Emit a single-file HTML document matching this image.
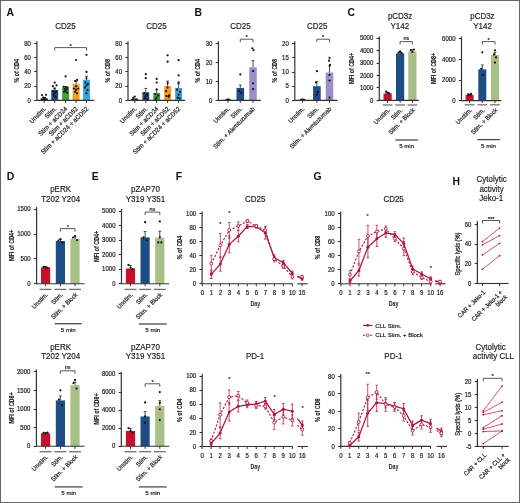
<!DOCTYPE html>
<html><head><meta charset="utf-8"><style>
html,body{margin:0;padding:0;background:#fff;}
body{width:520px;height:503px;overflow:hidden;}
svg{display:block;filter:blur(0.3px);}
text{font-family:"Liberation Sans", sans-serif;}
</style></head><body>
<svg width="520" height="503" viewBox="0 0 520 503" font-family='"Liberation Sans", sans-serif'>
<rect x="0" y="0" width="520" height="503" fill="#fff"/>
<text x="6.6" y="15.8" font-size="10.4" text-anchor="start" font-weight="bold" fill="#111">A</text>
<line x1="36.9" y1="41.2" x2="36.9" y2="100.9" stroke="#333" stroke-width="1.2"/>
<line x1="34.2" y1="100.5" x2="36.9" y2="100.5" stroke="#333" stroke-width="1.1"/>
<text x="0" y="0" font-size="6.4" text-anchor="end" font-weight="normal" fill="#222" transform="translate(30.9 102.55) scale(0.94 1)" stroke="#222" stroke-width="0.2">0</text>
<line x1="34.2" y1="86.5" x2="36.9" y2="86.5" stroke="#333" stroke-width="1.1"/>
<text x="0" y="0" font-size="6.4" text-anchor="end" font-weight="normal" fill="#222" transform="translate(30.9 88.3) scale(0.94 1)" stroke="#222" stroke-width="0.2">20</text>
<line x1="34.2" y1="71.5" x2="36.9" y2="71.5" stroke="#333" stroke-width="1.1"/>
<text x="0" y="0" font-size="6.4" text-anchor="end" font-weight="normal" fill="#222" transform="translate(30.9 74.05) scale(0.94 1)" stroke="#222" stroke-width="0.2">40</text>
<line x1="34.2" y1="57.5" x2="36.9" y2="57.5" stroke="#333" stroke-width="1.1"/>
<text x="0" y="0" font-size="6.4" text-anchor="end" font-weight="normal" fill="#222" transform="translate(30.9 59.8) scale(0.94 1)" stroke="#222" stroke-width="0.2">60</text>
<line x1="34.2" y1="43.5" x2="36.9" y2="43.5" stroke="#333" stroke-width="1.1"/>
<text x="0" y="0" font-size="6.4" text-anchor="end" font-weight="normal" fill="#222" transform="translate(30.9 45.55) scale(0.94 1)" stroke="#222" stroke-width="0.2">80</text>
<text x="0" y="0" font-size="8" text-anchor="middle" font-weight="bold" fill="#222" transform="translate(18.7 70.8) rotate(-90) scale(0.67 1)" stroke="#222" stroke-width="0.15">% of CD4</text>
<text x="0" y="0" font-size="8.7" text-anchor="middle" font-weight="normal" fill="#222" transform="translate(65.5 28.6) scale(0.92 1)" stroke="#222" stroke-width="0.18">CD25</text>
<rect x="40.75" y="98.62" width="6.9" height="1.78" fill="#2e2e2e"/>
<rect x="51.25" y="89.93" width="6.9" height="10.47" fill="#1e4d86"/>
<rect x="62.15" y="87.93" width="6.9" height="12.47" fill="#3c9f3c"/>
<rect x="72.65" y="84.01" width="6.9" height="16.39" fill="#f39c1e"/>
<rect x="83.05" y="79.74" width="6.9" height="20.66" fill="#3aa3dd"/>
<line x1="44.2" y1="98.62" x2="44.2" y2="97.55" stroke="#222" stroke-width="0.8"/>
<line x1="42.8" y1="97.55" x2="45.6" y2="97.55" stroke="#222" stroke-width="0.8"/>
<line x1="54.7" y1="89.93" x2="54.7" y2="88.15" stroke="#222" stroke-width="0.8"/>
<line x1="53.3" y1="88.15" x2="56.1" y2="88.15" stroke="#222" stroke-width="0.8"/>
<line x1="65.6" y1="87.93" x2="65.6" y2="86.51" stroke="#222" stroke-width="0.8"/>
<line x1="64.2" y1="86.51" x2="67" y2="86.51" stroke="#222" stroke-width="0.8"/>
<line x1="76.1" y1="84.01" x2="76.1" y2="81.16" stroke="#222" stroke-width="0.8"/>
<line x1="74.7" y1="81.16" x2="77.5" y2="81.16" stroke="#222" stroke-width="0.8"/>
<line x1="86.5" y1="79.74" x2="86.5" y2="76.18" stroke="#222" stroke-width="0.8"/>
<line x1="85.1" y1="76.18" x2="87.9" y2="76.18" stroke="#222" stroke-width="0.8"/>
<circle cx="42" cy="95.06" r="1.1" fill="#111" stroke="none" stroke-width="0"/>
<circle cx="46" cy="94.84" r="1.1" fill="#111" stroke="none" stroke-width="0"/>
<circle cx="43.2" cy="97.55" r="1.1" fill="#111" stroke="none" stroke-width="0"/>
<circle cx="45.2" cy="97.91" r="1.1" fill="#111" stroke="none" stroke-width="0"/>
<circle cx="44.2" cy="98.98" r="1.1" fill="#111" stroke="none" stroke-width="0"/>
<circle cx="41.7" cy="99.69" r="1.1" fill="#111" stroke="none" stroke-width="0"/>
<circle cx="46.7" cy="99.69" r="1.1" fill="#111" stroke="none" stroke-width="0"/>
<circle cx="43.2" cy="100.04" r="1.1" fill="#111" stroke="none" stroke-width="0"/>
<circle cx="45.2" cy="100.04" r="1.1" fill="#111" stroke="none" stroke-width="0"/>
<circle cx="54.7" cy="82.59" r="1.1" fill="#111" stroke="none" stroke-width="0"/>
<circle cx="52.9" cy="86.15" r="1.1" fill="#111" stroke="none" stroke-width="0"/>
<circle cx="56.5" cy="85.44" r="1.1" fill="#111" stroke="none" stroke-width="0"/>
<circle cx="54.7" cy="88.5" r="1.1" fill="#111" stroke="none" stroke-width="0"/>
<circle cx="53.2" cy="91.14" r="1.1" fill="#111" stroke="none" stroke-width="0"/>
<circle cx="56.2" cy="91.85" r="1.1" fill="#111" stroke="none" stroke-width="0"/>
<circle cx="54.7" cy="93.28" r="1.1" fill="#111" stroke="none" stroke-width="0"/>
<circle cx="53.7" cy="95.41" r="1.1" fill="#111" stroke="none" stroke-width="0"/>
<circle cx="55.7" cy="96.84" r="1.1" fill="#111" stroke="none" stroke-width="0"/>
<circle cx="65.6" cy="76.39" r="1.1" fill="#111" stroke="none" stroke-width="0"/>
<circle cx="63.6" cy="86.86" r="1.1" fill="#111" stroke="none" stroke-width="0"/>
<circle cx="65.6" cy="87.22" r="1.1" fill="#111" stroke="none" stroke-width="0"/>
<circle cx="67.6" cy="87.58" r="1.1" fill="#111" stroke="none" stroke-width="0"/>
<circle cx="64.6" cy="89" r="1.1" fill="#111" stroke="none" stroke-width="0"/>
<circle cx="66.6" cy="89.36" r="1.1" fill="#111" stroke="none" stroke-width="0"/>
<circle cx="65.6" cy="90.43" r="1.1" fill="#111" stroke="none" stroke-width="0"/>
<circle cx="64.1" cy="91.85" r="1.1" fill="#111" stroke="none" stroke-width="0"/>
<circle cx="67.1" cy="92.56" r="1.1" fill="#111" stroke="none" stroke-width="0"/>
<circle cx="76.1" cy="60" r="1.1" fill="#111" stroke="none" stroke-width="0"/>
<circle cx="75.1" cy="81.02" r="1.1" fill="#111" stroke="none" stroke-width="0"/>
<circle cx="77.1" cy="79.88" r="1.1" fill="#111" stroke="none" stroke-width="0"/>
<circle cx="73.9" cy="88.5" r="1.1" fill="#111" stroke="none" stroke-width="0"/>
<circle cx="78.3" cy="88.5" r="1.1" fill="#111" stroke="none" stroke-width="0"/>
<circle cx="76.1" cy="89.71" r="1.1" fill="#111" stroke="none" stroke-width="0"/>
<circle cx="76.1" cy="86.15" r="1.1" fill="#111" stroke="none" stroke-width="0"/>
<circle cx="75.1" cy="91.85" r="1.1" fill="#111" stroke="none" stroke-width="0"/>
<circle cx="77.1" cy="93.28" r="1.1" fill="#111" stroke="none" stroke-width="0"/>
<circle cx="86.5" cy="54.8" r="1.1" fill="#111" stroke="none" stroke-width="0"/>
<circle cx="86.5" cy="71.9" r="1.1" fill="#111" stroke="none" stroke-width="0"/>
<circle cx="86.5" cy="78.31" r="1.1" fill="#111" stroke="none" stroke-width="0"/>
<circle cx="85.5" cy="82.59" r="1.1" fill="#111" stroke="none" stroke-width="0"/>
<circle cx="88" cy="84.01" r="1.1" fill="#111" stroke="none" stroke-width="0"/>
<circle cx="86.5" cy="85.44" r="1.1" fill="#111" stroke="none" stroke-width="0"/>
<circle cx="85" cy="87.58" r="1.1" fill="#111" stroke="none" stroke-width="0"/>
<circle cx="87.5" cy="90.21" r="1.1" fill="#111" stroke="none" stroke-width="0"/>
<circle cx="86.5" cy="93.28" r="1.1" fill="#111" stroke="none" stroke-width="0"/>
<line x1="36.9" y1="100.4" x2="94.3" y2="100.4" stroke="#333" stroke-width="1.1"/>
<line x1="44.2" y1="100.4" x2="44.2" y2="102.9" stroke="#333" stroke-width="1"/>
<line x1="54.7" y1="100.4" x2="54.7" y2="102.9" stroke="#333" stroke-width="1"/>
<line x1="65.6" y1="100.4" x2="65.6" y2="102.9" stroke="#333" stroke-width="1"/>
<line x1="76.1" y1="100.4" x2="76.1" y2="102.9" stroke="#333" stroke-width="1"/>
<line x1="86.5" y1="100.4" x2="86.5" y2="102.9" stroke="#333" stroke-width="1"/>
<path d="M54.7 50.6 V47.6 H86.5 V50.6" stroke="#444" stroke-width="0.9" fill="none"/>
<text x="70.6" y="47.7" font-size="5.8" text-anchor="middle" font-weight="normal" fill="#222" stroke="#222" stroke-width="0.2">*</text>
<text x="0" y="0" font-size="6.5" text-anchor="end" font-weight="normal" fill="#222" transform="translate(46.5 109.3) rotate(-45) scale(0.94 1)" stroke="#222" stroke-width="0.2">Unstim.</text>
<text x="0" y="0" font-size="6.5" text-anchor="end" font-weight="normal" fill="#222" transform="translate(57 109.3) rotate(-45) scale(0.94 1)" stroke="#222" stroke-width="0.2">Stim.</text>
<text x="0" y="0" font-size="6.5" text-anchor="end" font-weight="normal" fill="#222" transform="translate(67.9 109.3) rotate(-45) scale(0.94 1)" stroke="#222" stroke-width="0.2">Stim + aCD24</text>
<text x="0" y="0" font-size="6.5" text-anchor="end" font-weight="normal" fill="#222" transform="translate(78.4 109.3) rotate(-45) scale(0.94 1)" stroke="#222" stroke-width="0.2">Stim + aCD52</text>
<text x="0" y="0" font-size="6.5" text-anchor="end" font-weight="normal" fill="#222" transform="translate(88.8 109.3) rotate(-45) scale(0.94 1)" stroke="#222" stroke-width="0.2">Stim + aCD24 + aCD52</text>
<line x1="128" y1="41.2" x2="128" y2="100.9" stroke="#333" stroke-width="1.2"/>
<line x1="125.3" y1="100.5" x2="128" y2="100.5" stroke="#333" stroke-width="1.1"/>
<text x="0" y="0" font-size="6.4" text-anchor="end" font-weight="normal" fill="#222" transform="translate(122 102.55) scale(0.94 1)" stroke="#222" stroke-width="0.2">0</text>
<line x1="125.3" y1="86.5" x2="128" y2="86.5" stroke="#333" stroke-width="1.1"/>
<text x="0" y="0" font-size="6.4" text-anchor="end" font-weight="normal" fill="#222" transform="translate(122 88.3) scale(0.94 1)" stroke="#222" stroke-width="0.2">20</text>
<line x1="125.3" y1="71.5" x2="128" y2="71.5" stroke="#333" stroke-width="1.1"/>
<text x="0" y="0" font-size="6.4" text-anchor="end" font-weight="normal" fill="#222" transform="translate(122 74.05) scale(0.94 1)" stroke="#222" stroke-width="0.2">40</text>
<line x1="125.3" y1="57.5" x2="128" y2="57.5" stroke="#333" stroke-width="1.1"/>
<text x="0" y="0" font-size="6.4" text-anchor="end" font-weight="normal" fill="#222" transform="translate(122 59.8) scale(0.94 1)" stroke="#222" stroke-width="0.2">60</text>
<line x1="125.3" y1="43.5" x2="128" y2="43.5" stroke="#333" stroke-width="1.1"/>
<text x="0" y="0" font-size="6.4" text-anchor="end" font-weight="normal" fill="#222" transform="translate(122 45.55) scale(0.94 1)" stroke="#222" stroke-width="0.2">80</text>
<text x="0" y="0" font-size="8" text-anchor="middle" font-weight="bold" fill="#222" transform="translate(109.7 70.8) rotate(-90) scale(0.67 1)" stroke="#222" stroke-width="0.15">% of CD8</text>
<text x="0" y="0" font-size="8.7" text-anchor="middle" font-weight="normal" fill="#222" transform="translate(156.4 28.6) scale(0.92 1)" stroke="#222" stroke-width="0.18">CD25</text>
<rect x="131.35" y="99.55" width="6.9" height="0.86" fill="#2e2e2e"/>
<rect x="142.35" y="92.21" width="6.9" height="8.19" fill="#1e4d86"/>
<rect x="153.25" y="92.92" width="6.9" height="7.48" fill="#3c9f3c"/>
<rect x="164.15" y="86.15" width="6.9" height="14.25" fill="#f39c1e"/>
<rect x="175.15" y="87.93" width="6.9" height="12.47" fill="#3aa3dd"/>
<line x1="134.8" y1="99.55" x2="134.8" y2="98.83" stroke="#222" stroke-width="0.8"/>
<line x1="133.4" y1="98.83" x2="136.2" y2="98.83" stroke="#222" stroke-width="0.8"/>
<line x1="145.8" y1="92.21" x2="145.8" y2="88.43" stroke="#222" stroke-width="0.8"/>
<line x1="144.4" y1="88.43" x2="147.2" y2="88.43" stroke="#222" stroke-width="0.8"/>
<line x1="156.7" y1="92.92" x2="156.7" y2="89.71" stroke="#222" stroke-width="0.8"/>
<line x1="155.3" y1="89.71" x2="158.1" y2="89.71" stroke="#222" stroke-width="0.8"/>
<line x1="167.6" y1="86.15" x2="167.6" y2="81.16" stroke="#222" stroke-width="0.8"/>
<line x1="166.2" y1="81.16" x2="169" y2="81.16" stroke="#222" stroke-width="0.8"/>
<line x1="178.6" y1="87.93" x2="178.6" y2="83.66" stroke="#222" stroke-width="0.8"/>
<line x1="177.2" y1="83.66" x2="180" y2="83.66" stroke="#222" stroke-width="0.8"/>
<circle cx="132.8" cy="99.69" r="1.1" fill="#111" stroke="none" stroke-width="0"/>
<circle cx="134.8" cy="96.48" r="1.1" fill="#111" stroke="none" stroke-width="0"/>
<circle cx="133.3" cy="97.91" r="1.1" fill="#111" stroke="none" stroke-width="0"/>
<circle cx="136.8" cy="99.33" r="1.1" fill="#111" stroke="none" stroke-width="0"/>
<circle cx="135.8" cy="100.04" r="1.1" fill="#111" stroke="none" stroke-width="0"/>
<circle cx="132.3" cy="100.04" r="1.1" fill="#111" stroke="none" stroke-width="0"/>
<circle cx="145.8" cy="74.18" r="1.1" fill="#111" stroke="none" stroke-width="0"/>
<circle cx="145.8" cy="78.17" r="1.1" fill="#111" stroke="none" stroke-width="0"/>
<circle cx="144.3" cy="93.28" r="1.1" fill="#111" stroke="none" stroke-width="0"/>
<circle cx="147.3" cy="94.7" r="1.1" fill="#111" stroke="none" stroke-width="0"/>
<circle cx="145.8" cy="96.12" r="1.1" fill="#111" stroke="none" stroke-width="0"/>
<circle cx="144.8" cy="98.26" r="1.1" fill="#111" stroke="none" stroke-width="0"/>
<circle cx="147.3" cy="98.98" r="1.1" fill="#111" stroke="none" stroke-width="0"/>
<circle cx="156.7" cy="78.88" r="1.1" fill="#111" stroke="none" stroke-width="0"/>
<circle cx="156.7" cy="82.52" r="1.1" fill="#111" stroke="none" stroke-width="0"/>
<circle cx="156.7" cy="89.29" r="1.1" fill="#111" stroke="none" stroke-width="0"/>
<circle cx="155.2" cy="93.99" r="1.1" fill="#111" stroke="none" stroke-width="0"/>
<circle cx="158.2" cy="95.41" r="1.1" fill="#111" stroke="none" stroke-width="0"/>
<circle cx="156.7" cy="97.55" r="1.1" fill="#111" stroke="none" stroke-width="0"/>
<circle cx="155.7" cy="98.98" r="1.1" fill="#111" stroke="none" stroke-width="0"/>
<circle cx="167.6" cy="55.37" r="1.1" fill="#111" stroke="none" stroke-width="0"/>
<circle cx="167.6" cy="61.64" r="1.1" fill="#111" stroke="none" stroke-width="0"/>
<circle cx="167.6" cy="83.3" r="1.1" fill="#111" stroke="none" stroke-width="0"/>
<circle cx="167.6" cy="87.58" r="1.1" fill="#111" stroke="none" stroke-width="0"/>
<circle cx="166.1" cy="91.14" r="1.1" fill="#111" stroke="none" stroke-width="0"/>
<circle cx="169.1" cy="95.41" r="1.1" fill="#111" stroke="none" stroke-width="0"/>
<circle cx="166.6" cy="96.12" r="1.1" fill="#111" stroke="none" stroke-width="0"/>
<circle cx="168.6" cy="96.84" r="1.1" fill="#111" stroke="none" stroke-width="0"/>
<circle cx="178.6" cy="60.22" r="1.1" fill="#111" stroke="none" stroke-width="0"/>
<circle cx="178.6" cy="75.32" r="1.1" fill="#111" stroke="none" stroke-width="0"/>
<circle cx="178.6" cy="82.3" r="1.1" fill="#111" stroke="none" stroke-width="0"/>
<circle cx="177.1" cy="89.71" r="1.1" fill="#111" stroke="none" stroke-width="0"/>
<circle cx="180.1" cy="91.85" r="1.1" fill="#111" stroke="none" stroke-width="0"/>
<circle cx="178.6" cy="94.7" r="1.1" fill="#111" stroke="none" stroke-width="0"/>
<circle cx="177.6" cy="97.55" r="1.1" fill="#111" stroke="none" stroke-width="0"/>
<circle cx="179.6" cy="98.26" r="1.1" fill="#111" stroke="none" stroke-width="0"/>
<line x1="128" y1="100.4" x2="185.1" y2="100.4" stroke="#333" stroke-width="1.1"/>
<line x1="134.8" y1="100.4" x2="134.8" y2="102.9" stroke="#333" stroke-width="1"/>
<line x1="145.8" y1="100.4" x2="145.8" y2="102.9" stroke="#333" stroke-width="1"/>
<line x1="156.7" y1="100.4" x2="156.7" y2="102.9" stroke="#333" stroke-width="1"/>
<line x1="167.6" y1="100.4" x2="167.6" y2="102.9" stroke="#333" stroke-width="1"/>
<line x1="178.6" y1="100.4" x2="178.6" y2="102.9" stroke="#333" stroke-width="1"/>
<text x="0" y="0" font-size="6.5" text-anchor="end" font-weight="normal" fill="#222" transform="translate(137.1 109.3) rotate(-45) scale(0.94 1)" stroke="#222" stroke-width="0.2">Unstim.</text>
<text x="0" y="0" font-size="6.5" text-anchor="end" font-weight="normal" fill="#222" transform="translate(148.1 109.3) rotate(-45) scale(0.94 1)" stroke="#222" stroke-width="0.2">Stim.</text>
<text x="0" y="0" font-size="6.5" text-anchor="end" font-weight="normal" fill="#222" transform="translate(159 109.3) rotate(-45) scale(0.94 1)" stroke="#222" stroke-width="0.2">Stim + aCD24</text>
<text x="0" y="0" font-size="6.5" text-anchor="end" font-weight="normal" fill="#222" transform="translate(169.9 109.3) rotate(-45) scale(0.94 1)" stroke="#222" stroke-width="0.2">Stim + aCD52</text>
<text x="0" y="0" font-size="6.5" text-anchor="end" font-weight="normal" fill="#222" transform="translate(180.9 109.3) rotate(-45) scale(0.94 1)" stroke="#222" stroke-width="0.2">Stim + aCD24 + aCD52</text>
<text x="194.6" y="15.8" font-size="10.4" text-anchor="start" font-weight="bold" fill="#111">B</text>
<line x1="218.4" y1="41.2" x2="218.4" y2="100.9" stroke="#333" stroke-width="1.2"/>
<line x1="215.7" y1="100.5" x2="218.4" y2="100.5" stroke="#333" stroke-width="1.1"/>
<text x="0" y="0" font-size="6.4" text-anchor="end" font-weight="normal" fill="#222" transform="translate(212.4 102.55) scale(0.94 1)" stroke="#222" stroke-width="0.2">0</text>
<line x1="215.7" y1="81.5" x2="218.4" y2="81.5" stroke="#333" stroke-width="1.1"/>
<text x="0" y="0" font-size="6.4" text-anchor="end" font-weight="normal" fill="#222" transform="translate(212.4 83.62) scale(0.94 1)" stroke="#222" stroke-width="0.2">10</text>
<line x1="215.7" y1="62.5" x2="218.4" y2="62.5" stroke="#333" stroke-width="1.1"/>
<text x="0" y="0" font-size="6.4" text-anchor="end" font-weight="normal" fill="#222" transform="translate(212.4 64.69) scale(0.94 1)" stroke="#222" stroke-width="0.2">20</text>
<line x1="215.7" y1="43.5" x2="218.4" y2="43.5" stroke="#333" stroke-width="1.1"/>
<text x="0" y="0" font-size="6.4" text-anchor="end" font-weight="normal" fill="#222" transform="translate(212.4 45.76) scale(0.94 1)" stroke="#222" stroke-width="0.2">30</text>
<text x="0" y="0" font-size="8" text-anchor="middle" font-weight="bold" fill="#222" transform="translate(200.4 70.8) rotate(-90) scale(0.67 1)" stroke="#222" stroke-width="0.15">% of CD4</text>
<text x="0" y="0" font-size="8.7" text-anchor="middle" font-weight="normal" fill="#222" transform="translate(240.5 28.6) scale(0.92 1)" stroke="#222" stroke-width="0.18">CD25</text>
<rect x="224.1" y="99.83" width="7.6" height="0.57" fill="#2e2e2e"/>
<rect x="236.5" y="87.91" width="7.6" height="12.49" fill="#1e4d86"/>
<rect x="249.2" y="67.27" width="7.6" height="33.13" fill="#9a8fc9"/>
<line x1="227.9" y1="99.83" x2="227.9" y2="99.26" stroke="#222" stroke-width="0.8"/>
<line x1="226.5" y1="99.26" x2="229.3" y2="99.26" stroke="#222" stroke-width="0.8"/>
<line x1="240.3" y1="87.91" x2="240.3" y2="85.07" stroke="#222" stroke-width="0.8"/>
<line x1="238.9" y1="85.07" x2="241.7" y2="85.07" stroke="#222" stroke-width="0.8"/>
<line x1="253" y1="67.27" x2="253" y2="60.65" stroke="#222" stroke-width="0.8"/>
<line x1="251.6" y1="60.65" x2="254.4" y2="60.65" stroke="#222" stroke-width="0.8"/>
<circle cx="226.4" cy="100.02" r="1.1" fill="#111" stroke="none" stroke-width="0"/>
<circle cx="227.9" cy="99.64" r="1.1" fill="#111" stroke="none" stroke-width="0"/>
<circle cx="229.4" cy="99.83" r="1.1" fill="#111" stroke="none" stroke-width="0"/>
<circle cx="240.3" cy="74.47" r="1.1" fill="#111" stroke="none" stroke-width="0"/>
<circle cx="239.3" cy="90.94" r="1.1" fill="#111" stroke="none" stroke-width="0"/>
<circle cx="241.3" cy="92.83" r="1.1" fill="#111" stroke="none" stroke-width="0"/>
<circle cx="252.4" cy="48.34" r="1.1" fill="#111" stroke="none" stroke-width="0"/>
<circle cx="253.6" cy="50.24" r="1.1" fill="#111" stroke="none" stroke-width="0"/>
<circle cx="253" cy="71.06" r="1.1" fill="#111" stroke="none" stroke-width="0"/>
<circle cx="253" cy="83.36" r="1.1" fill="#111" stroke="none" stroke-width="0"/>
<circle cx="253" cy="89.04" r="1.1" fill="#111" stroke="none" stroke-width="0"/>
<line x1="218.4" y1="100.4" x2="260.9" y2="100.4" stroke="#333" stroke-width="1.1"/>
<line x1="227.9" y1="100.4" x2="227.9" y2="102.9" stroke="#333" stroke-width="1"/>
<line x1="240.3" y1="100.4" x2="240.3" y2="102.9" stroke="#333" stroke-width="1"/>
<line x1="253" y1="100.4" x2="253" y2="102.9" stroke="#333" stroke-width="1"/>
<path d="M240.3 42.2 V39.2 H253 V42.2" stroke="#444" stroke-width="0.9" fill="none"/>
<text x="246.65" y="39.3" font-size="5.8" text-anchor="middle" font-weight="normal" fill="#222" stroke="#222" stroke-width="0.2">*</text>
<text x="0" y="0" font-size="6.3" text-anchor="end" font-weight="normal" fill="#222" transform="translate(230.2 109.3) rotate(-45) scale(0.94 1)" stroke="#222" stroke-width="0.2">Unstim.</text>
<text x="0" y="0" font-size="6.3" text-anchor="end" font-weight="normal" fill="#222" transform="translate(242.6 109.3) rotate(-45) scale(0.94 1)" stroke="#222" stroke-width="0.2">Stim.</text>
<text x="0" y="0" font-size="6.3" text-anchor="end" font-weight="normal" fill="#222" transform="translate(255.3 109.3) rotate(-45) scale(0.94 1)" stroke="#222" stroke-width="0.2">Stim. + Alemtuzumab</text>
<line x1="294.8" y1="41.2" x2="294.8" y2="100.9" stroke="#333" stroke-width="1.2"/>
<line x1="292.1" y1="100.5" x2="294.8" y2="100.5" stroke="#333" stroke-width="1.1"/>
<text x="0" y="0" font-size="6.4" text-anchor="end" font-weight="normal" fill="#222" transform="translate(288.8 102.55) scale(0.94 1)" stroke="#222" stroke-width="0.2">0</text>
<line x1="292.1" y1="86.5" x2="294.8" y2="86.5" stroke="#333" stroke-width="1.1"/>
<text x="0" y="0" font-size="6.4" text-anchor="end" font-weight="normal" fill="#222" transform="translate(288.8 88.35) scale(0.94 1)" stroke="#222" stroke-width="0.2">5</text>
<line x1="292.1" y1="72.5" x2="294.8" y2="72.5" stroke="#333" stroke-width="1.1"/>
<text x="0" y="0" font-size="6.4" text-anchor="end" font-weight="normal" fill="#222" transform="translate(288.8 74.15) scale(0.94 1)" stroke="#222" stroke-width="0.2">10</text>
<line x1="292.1" y1="57.5" x2="294.8" y2="57.5" stroke="#333" stroke-width="1.1"/>
<text x="0" y="0" font-size="6.4" text-anchor="end" font-weight="normal" fill="#222" transform="translate(288.8 59.95) scale(0.94 1)" stroke="#222" stroke-width="0.2">15</text>
<line x1="292.1" y1="43.5" x2="294.8" y2="43.5" stroke="#333" stroke-width="1.1"/>
<text x="0" y="0" font-size="6.4" text-anchor="end" font-weight="normal" fill="#222" transform="translate(288.8 45.75) scale(0.94 1)" stroke="#222" stroke-width="0.2">20</text>
<text x="0" y="0" font-size="8" text-anchor="middle" font-weight="bold" fill="#222" transform="translate(277 70.8) rotate(-90) scale(0.67 1)" stroke="#222" stroke-width="0.15">% of CD8</text>
<text x="0" y="0" font-size="8.7" text-anchor="middle" font-weight="normal" fill="#222" transform="translate(317.2 28.6) scale(0.92 1)" stroke="#222" stroke-width="0.18">CD25</text>
<rect x="298.8" y="99.83" width="7.6" height="0.57" fill="#2e2e2e"/>
<rect x="313.1" y="86.2" width="7.6" height="14.2" fill="#1e4d86"/>
<rect x="325.7" y="72.57" width="7.6" height="27.83" fill="#9a8fc9"/>
<line x1="302.6" y1="99.83" x2="302.6" y2="99.26" stroke="#222" stroke-width="0.8"/>
<line x1="301.2" y1="99.26" x2="304" y2="99.26" stroke="#222" stroke-width="0.8"/>
<line x1="316.9" y1="86.2" x2="316.9" y2="81.66" stroke="#222" stroke-width="0.8"/>
<line x1="315.5" y1="81.66" x2="318.3" y2="81.66" stroke="#222" stroke-width="0.8"/>
<line x1="329.5" y1="72.57" x2="329.5" y2="66.04" stroke="#222" stroke-width="0.8"/>
<line x1="328.1" y1="66.04" x2="330.9" y2="66.04" stroke="#222" stroke-width="0.8"/>
<circle cx="301.1" cy="99.83" r="1.1" fill="#111" stroke="none" stroke-width="0"/>
<circle cx="302.6" cy="99.55" r="1.1" fill="#111" stroke="none" stroke-width="0"/>
<circle cx="304.1" cy="99.83" r="1.1" fill="#111" stroke="none" stroke-width="0"/>
<circle cx="316.9" cy="71.15" r="1.1" fill="#111" stroke="none" stroke-width="0"/>
<circle cx="315.9" cy="82.51" r="1.1" fill="#111" stroke="none" stroke-width="0"/>
<circle cx="317.9" cy="91.88" r="1.1" fill="#111" stroke="none" stroke-width="0"/>
<circle cx="316.9" cy="94.72" r="1.1" fill="#111" stroke="none" stroke-width="0"/>
<circle cx="329.5" cy="57.8" r="1.1" fill="#111" stroke="none" stroke-width="0"/>
<circle cx="329" cy="60.64" r="1.1" fill="#111" stroke="none" stroke-width="0"/>
<circle cx="330" cy="64.9" r="1.1" fill="#111" stroke="none" stroke-width="0"/>
<circle cx="329.5" cy="74.84" r="1.1" fill="#111" stroke="none" stroke-width="0"/>
<circle cx="329.5" cy="80.52" r="1.1" fill="#111" stroke="none" stroke-width="0"/>
<circle cx="329.5" cy="97.56" r="1.1" fill="#111" stroke="none" stroke-width="0"/>
<line x1="294.8" y1="100.4" x2="337.6" y2="100.4" stroke="#333" stroke-width="1.1"/>
<line x1="302.6" y1="100.4" x2="302.6" y2="102.9" stroke="#333" stroke-width="1"/>
<line x1="316.9" y1="100.4" x2="316.9" y2="102.9" stroke="#333" stroke-width="1"/>
<line x1="329.5" y1="100.4" x2="329.5" y2="102.9" stroke="#333" stroke-width="1"/>
<path d="M316.9 42.2 V39.2 H329.5 V42.2" stroke="#444" stroke-width="0.9" fill="none"/>
<text x="323.2" y="39.3" font-size="5.8" text-anchor="middle" font-weight="normal" fill="#222" stroke="#222" stroke-width="0.2">*</text>
<text x="0" y="0" font-size="6.3" text-anchor="end" font-weight="normal" fill="#222" transform="translate(304.9 109.3) rotate(-45) scale(0.94 1)" stroke="#222" stroke-width="0.2">Unstim.</text>
<text x="0" y="0" font-size="6.3" text-anchor="end" font-weight="normal" fill="#222" transform="translate(319.2 109.3) rotate(-45) scale(0.94 1)" stroke="#222" stroke-width="0.2">Stim.</text>
<text x="0" y="0" font-size="6.3" text-anchor="end" font-weight="normal" fill="#222" transform="translate(331.8 109.3) rotate(-45) scale(0.94 1)" stroke="#222" stroke-width="0.2">Stim. + Alemtuzumab</text>
<text x="347.4" y="15.8" font-size="10.4" text-anchor="start" font-weight="bold" fill="#111">C</text>
<line x1="379.3" y1="36.5" x2="379.3" y2="100.9" stroke="#333" stroke-width="1.2"/>
<line x1="376.6" y1="100.5" x2="379.3" y2="100.5" stroke="#333" stroke-width="1.1"/>
<text x="0" y="0" font-size="6.4" text-anchor="end" font-weight="normal" fill="#222" transform="translate(373.3 102.55) scale(0.94 1)" stroke="#222" stroke-width="0.2">0</text>
<line x1="376.6" y1="87.5" x2="379.3" y2="87.5" stroke="#333" stroke-width="1.1"/>
<text x="0" y="0" font-size="6.4" text-anchor="end" font-weight="normal" fill="#222" transform="translate(373.3 90.13) scale(0.94 1)" stroke="#222" stroke-width="0.2">1000</text>
<line x1="376.6" y1="75.5" x2="379.3" y2="75.5" stroke="#333" stroke-width="1.1"/>
<text x="0" y="0" font-size="6.4" text-anchor="end" font-weight="normal" fill="#222" transform="translate(373.3 77.71) scale(0.94 1)" stroke="#222" stroke-width="0.2">2000</text>
<line x1="376.6" y1="63.5" x2="379.3" y2="63.5" stroke="#333" stroke-width="1.1"/>
<text x="0" y="0" font-size="6.4" text-anchor="end" font-weight="normal" fill="#222" transform="translate(373.3 65.29) scale(0.94 1)" stroke="#222" stroke-width="0.2">3000</text>
<line x1="376.6" y1="50.5" x2="379.3" y2="50.5" stroke="#333" stroke-width="1.1"/>
<text x="0" y="0" font-size="6.4" text-anchor="end" font-weight="normal" fill="#222" transform="translate(373.3 52.87) scale(0.94 1)" stroke="#222" stroke-width="0.2">4000</text>
<line x1="376.6" y1="38.5" x2="379.3" y2="38.5" stroke="#333" stroke-width="1.1"/>
<text x="0" y="0" font-size="6.4" text-anchor="end" font-weight="normal" fill="#222" transform="translate(373.3 40.45) scale(0.94 1)" stroke="#222" stroke-width="0.2">5000</text>
<text x="0" y="0" font-size="8" text-anchor="middle" font-weight="bold" fill="#222" transform="translate(354.1 68.5) rotate(-90) scale(0.67 1)" stroke="#222" stroke-width="0.15">MFI of CD4+</text>
<text x="0" y="0" font-size="8.7" text-anchor="middle" font-weight="normal" fill="#222" transform="translate(400.1 18.8) scale(0.92 1)" stroke="#222" stroke-width="0.18">pCD3z</text>
<text x="0" y="0" font-size="8.7" text-anchor="middle" font-weight="normal" fill="#222" transform="translate(399.8 28.5) scale(0.92 1)" stroke="#222" stroke-width="0.18">Y142</text>
<rect x="383.5" y="93.44" width="8.2" height="6.96" fill="#c8102e"/>
<rect x="396" y="53.45" width="8.2" height="46.95" fill="#1e4d86"/>
<rect x="408.3" y="51.34" width="8.2" height="49.06" fill="#a8bf86"/>
<line x1="387.6" y1="93.44" x2="387.6" y2="92.45" stroke="#222" stroke-width="0.8"/>
<line x1="386.2" y1="92.45" x2="389" y2="92.45" stroke="#222" stroke-width="0.8"/>
<line x1="400.1" y1="53.45" x2="400.1" y2="52.21" stroke="#222" stroke-width="0.8"/>
<line x1="398.7" y1="52.21" x2="401.5" y2="52.21" stroke="#222" stroke-width="0.8"/>
<line x1="412.4" y1="51.34" x2="412.4" y2="49.85" stroke="#222" stroke-width="0.8"/>
<line x1="411" y1="49.85" x2="413.8" y2="49.85" stroke="#222" stroke-width="0.8"/>
<circle cx="386.1" cy="91.71" r="1.1" fill="#111" stroke="none" stroke-width="0"/>
<circle cx="387.6" cy="92.95" r="1.1" fill="#111" stroke="none" stroke-width="0"/>
<circle cx="389.1" cy="93.44" r="1.1" fill="#111" stroke="none" stroke-width="0"/>
<circle cx="398.6" cy="52.58" r="1.1" fill="#111" stroke="none" stroke-width="0"/>
<circle cx="400.1" cy="51.34" r="1.1" fill="#111" stroke="none" stroke-width="0"/>
<circle cx="401.6" cy="53.2" r="1.1" fill="#111" stroke="none" stroke-width="0"/>
<circle cx="410.9" cy="50.1" r="1.1" fill="#111" stroke="none" stroke-width="0"/>
<circle cx="412.4" cy="51.96" r="1.1" fill="#111" stroke="none" stroke-width="0"/>
<circle cx="413.9" cy="49.48" r="1.1" fill="#111" stroke="none" stroke-width="0"/>
<line x1="379.3" y1="100.4" x2="418.9" y2="100.4" stroke="#333" stroke-width="1.1"/>
<line x1="387.6" y1="100.4" x2="387.6" y2="102.9" stroke="#333" stroke-width="1"/>
<line x1="400.1" y1="100.4" x2="400.1" y2="102.9" stroke="#333" stroke-width="1"/>
<line x1="412.4" y1="100.4" x2="412.4" y2="102.9" stroke="#333" stroke-width="1"/>
<line x1="382.8" y1="105" x2="392.4" y2="105" stroke="#6f7378" stroke-width="1.3"/>
<line x1="395.3" y1="105" x2="404.9" y2="105" stroke="#6f7378" stroke-width="1.3"/>
<line x1="407.6" y1="105" x2="417.2" y2="105" stroke="#6f7378" stroke-width="1.3"/>
<path d="M400.1 44.6 V41.6 H412.4 V44.6" stroke="#444" stroke-width="0.9" fill="none"/>
<text x="406.25" y="40" font-size="5.4" text-anchor="middle" font-weight="normal" fill="#222" stroke="#222" stroke-width="0.2">ns</text>
<text x="0" y="0" font-size="6.3" text-anchor="end" font-weight="normal" fill="#222" transform="translate(390.4 110.6) rotate(-45) scale(0.93 1)" stroke="#222" stroke-width="0.2">Unstim.</text>
<text x="0" y="0" font-size="6.3" text-anchor="end" font-weight="normal" fill="#222" transform="translate(402.9 110.6) rotate(-45) scale(0.93 1)" stroke="#222" stroke-width="0.2">Stim.</text>
<text x="0" y="0" font-size="6.3" text-anchor="end" font-weight="normal" fill="#222" transform="translate(415.2 110.6) rotate(-45) scale(0.93 1)" stroke="#222" stroke-width="0.2">Stim. + Block</text>
<line x1="395.4" y1="140" x2="417.8" y2="140" stroke="#4a4a4a" stroke-width="1.3"/>
<text x="406.6" y="148" font-size="6.1" text-anchor="middle" font-weight="normal" fill="#222" stroke="#222" stroke-width="0.2">5 min</text>
<line x1="461.5" y1="36.5" x2="461.5" y2="101.1" stroke="#333" stroke-width="1.2"/>
<line x1="458.8" y1="100.5" x2="461.5" y2="100.5" stroke="#333" stroke-width="1.1"/>
<text x="0" y="0" font-size="6.4" text-anchor="end" font-weight="normal" fill="#222" transform="translate(455.5 102.75) scale(0.94 1)" stroke="#222" stroke-width="0.2">0</text>
<line x1="458.8" y1="80.5" x2="461.5" y2="80.5" stroke="#333" stroke-width="1.1"/>
<text x="0" y="0" font-size="6.4" text-anchor="end" font-weight="normal" fill="#222" transform="translate(455.5 82.21) scale(0.94 1)" stroke="#222" stroke-width="0.2">2000</text>
<line x1="458.8" y1="59.5" x2="461.5" y2="59.5" stroke="#333" stroke-width="1.1"/>
<text x="0" y="0" font-size="6.4" text-anchor="end" font-weight="normal" fill="#222" transform="translate(455.5 61.67) scale(0.94 1)" stroke="#222" stroke-width="0.2">4000</text>
<line x1="458.8" y1="38.5" x2="461.5" y2="38.5" stroke="#333" stroke-width="1.1"/>
<text x="0" y="0" font-size="6.4" text-anchor="end" font-weight="normal" fill="#222" transform="translate(455.5 41.13) scale(0.94 1)" stroke="#222" stroke-width="0.2">6000</text>
<text x="0" y="0" font-size="8" text-anchor="middle" font-weight="bold" fill="#222" transform="translate(436.3 68.5) rotate(-90) scale(0.67 1)" stroke="#222" stroke-width="0.15">MFI of CD8+</text>
<text x="0" y="0" font-size="8.7" text-anchor="middle" font-weight="normal" fill="#222" transform="translate(482.4 19.2) scale(0.92 1)" stroke="#222" stroke-width="0.18">pCD3z</text>
<text x="0" y="0" font-size="8.7" text-anchor="middle" font-weight="normal" fill="#222" transform="translate(482.5 28.6) scale(0.92 1)" stroke="#222" stroke-width="0.18">Y142</text>
<rect x="465.6" y="94.85" width="8" height="5.75" fill="#c8102e"/>
<rect x="478.3" y="69.28" width="8" height="31.32" fill="#1e4d86"/>
<rect x="491" y="54.9" width="8" height="45.7" fill="#a8bf86"/>
<line x1="469.6" y1="94.85" x2="469.6" y2="94.23" stroke="#222" stroke-width="0.8"/>
<line x1="468.2" y1="94.23" x2="471" y2="94.23" stroke="#222" stroke-width="0.8"/>
<line x1="482.3" y1="69.28" x2="482.3" y2="64.96" stroke="#222" stroke-width="0.8"/>
<line x1="480.9" y1="64.96" x2="483.7" y2="64.96" stroke="#222" stroke-width="0.8"/>
<line x1="495" y1="54.9" x2="495" y2="52.33" stroke="#222" stroke-width="0.8"/>
<line x1="493.6" y1="52.33" x2="496.4" y2="52.33" stroke="#222" stroke-width="0.8"/>
<circle cx="468.1" cy="94.44" r="1.1" fill="#111" stroke="none" stroke-width="0"/>
<circle cx="469.6" cy="95.46" r="1.1" fill="#111" stroke="none" stroke-width="0"/>
<circle cx="471.1" cy="93.92" r="1.1" fill="#111" stroke="none" stroke-width="0"/>
<circle cx="482.3" cy="52.33" r="1.1" fill="#111" stroke="none" stroke-width="0"/>
<circle cx="481.3" cy="68.76" r="1.1" fill="#111" stroke="none" stroke-width="0"/>
<circle cx="483.3" cy="74.92" r="1.1" fill="#111" stroke="none" stroke-width="0"/>
<circle cx="495" cy="50.28" r="1.1" fill="#111" stroke="none" stroke-width="0"/>
<circle cx="494" cy="54.38" r="1.1" fill="#111" stroke="none" stroke-width="0"/>
<circle cx="496" cy="57.47" r="1.1" fill="#111" stroke="none" stroke-width="0"/>
<circle cx="495" cy="62.6" r="1.1" fill="#111" stroke="none" stroke-width="0"/>
<line x1="461.5" y1="100.6" x2="501.4" y2="100.6" stroke="#333" stroke-width="1.1"/>
<line x1="469.6" y1="100.6" x2="469.6" y2="103.1" stroke="#333" stroke-width="1"/>
<line x1="482.3" y1="100.6" x2="482.3" y2="103.1" stroke="#333" stroke-width="1"/>
<line x1="495" y1="100.6" x2="495" y2="103.1" stroke="#333" stroke-width="1"/>
<line x1="464.8" y1="104.8" x2="474.4" y2="104.8" stroke="#6f7378" stroke-width="1.3"/>
<line x1="477.5" y1="104.8" x2="487.1" y2="104.8" stroke="#6f7378" stroke-width="1.3"/>
<line x1="490.2" y1="104.8" x2="499.8" y2="104.8" stroke="#6f7378" stroke-width="1.3"/>
<path d="M482.3 44.6 V41.6 H495 V44.6" stroke="#444" stroke-width="0.9" fill="none"/>
<text x="488.65" y="41.7" font-size="5.8" text-anchor="middle" font-weight="normal" fill="#222" stroke="#222" stroke-width="0.2">*</text>
<text x="0" y="0" font-size="6.3" text-anchor="end" font-weight="normal" fill="#222" transform="translate(472.4 110.6) rotate(-45) scale(0.93 1)" stroke="#222" stroke-width="0.2">Unstim.</text>
<text x="0" y="0" font-size="6.3" text-anchor="end" font-weight="normal" fill="#222" transform="translate(485.1 110.6) rotate(-45) scale(0.93 1)" stroke="#222" stroke-width="0.2">Stim.</text>
<text x="0" y="0" font-size="6.3" text-anchor="end" font-weight="normal" fill="#222" transform="translate(497.8 110.6) rotate(-45) scale(0.93 1)" stroke="#222" stroke-width="0.2">Stim. + Block</text>
<line x1="477.3" y1="139.6" x2="499.8" y2="139.6" stroke="#4a4a4a" stroke-width="1.3"/>
<text x="488.55" y="147.6" font-size="6.1" text-anchor="middle" font-weight="normal" fill="#222" stroke="#222" stroke-width="0.2">5 min</text>
<text x="6.8" y="179.6" font-size="10.4" text-anchor="start" font-weight="bold" fill="#111">D</text>
<line x1="36.6" y1="207" x2="36.6" y2="284.2" stroke="#333" stroke-width="1.2"/>
<line x1="33.9" y1="283.5" x2="36.6" y2="283.5" stroke="#333" stroke-width="1.1"/>
<text x="0" y="0" font-size="6.4" text-anchor="end" font-weight="normal" fill="#222" transform="translate(30.6 285.85) scale(0.94 1)" stroke="#222" stroke-width="0.2">0</text>
<line x1="33.9" y1="258.5" x2="36.6" y2="258.5" stroke="#333" stroke-width="1.1"/>
<text x="0" y="0" font-size="6.4" text-anchor="end" font-weight="normal" fill="#222" transform="translate(30.6 261.03) scale(0.94 1)" stroke="#222" stroke-width="0.2">500</text>
<line x1="33.9" y1="234.5" x2="36.6" y2="234.5" stroke="#333" stroke-width="1.1"/>
<text x="0" y="0" font-size="6.4" text-anchor="end" font-weight="normal" fill="#222" transform="translate(30.6 236.22) scale(0.94 1)" stroke="#222" stroke-width="0.2">1000</text>
<line x1="33.9" y1="209.5" x2="36.6" y2="209.5" stroke="#333" stroke-width="1.1"/>
<text x="0" y="0" font-size="6.4" text-anchor="end" font-weight="normal" fill="#222" transform="translate(30.6 211.41) scale(0.94 1)" stroke="#222" stroke-width="0.2">1500</text>
<text x="0" y="0" font-size="8" text-anchor="middle" font-weight="bold" fill="#222" transform="translate(13.7 245.4) rotate(-90) scale(0.67 1)" stroke="#222" stroke-width="0.15">MFI of CD4+</text>
<text x="0" y="0" font-size="8.7" text-anchor="middle" font-weight="normal" fill="#222" transform="translate(60.6 192.3) scale(0.92 1)" stroke="#222" stroke-width="0.18">pERK</text>
<text x="0" y="0" font-size="8.7" text-anchor="middle" font-weight="normal" fill="#222" transform="translate(60.6 201.7) scale(0.92 1)" stroke="#222" stroke-width="0.18">T202 Y204</text>
<rect x="41" y="267.32" width="9.2" height="16.38" fill="#c8102e"/>
<rect x="55.8" y="241.02" width="9.2" height="42.68" fill="#1e4d86"/>
<rect x="70.4" y="239.03" width="9.2" height="44.67" fill="#a8bf86"/>
<line x1="45.6" y1="267.32" x2="45.6" y2="266.58" stroke="#222" stroke-width="0.8"/>
<line x1="44.2" y1="266.58" x2="47" y2="266.58" stroke="#222" stroke-width="0.8"/>
<line x1="60.4" y1="241.02" x2="60.4" y2="239.53" stroke="#222" stroke-width="0.8"/>
<line x1="59" y1="239.53" x2="61.8" y2="239.53" stroke="#222" stroke-width="0.8"/>
<line x1="75" y1="239.03" x2="75" y2="237.05" stroke="#222" stroke-width="0.8"/>
<line x1="73.6" y1="237.05" x2="76.4" y2="237.05" stroke="#222" stroke-width="0.8"/>
<circle cx="43.6" cy="266.83" r="1.1" fill="#111" stroke="none" stroke-width="0"/>
<circle cx="45.6" cy="267.32" r="1.1" fill="#111" stroke="none" stroke-width="0"/>
<circle cx="47.6" cy="267.82" r="1.1" fill="#111" stroke="none" stroke-width="0"/>
<circle cx="58.4" cy="240.52" r="1.1" fill="#111" stroke="none" stroke-width="0"/>
<circle cx="60.4" cy="239.03" r="1.1" fill="#111" stroke="none" stroke-width="0"/>
<circle cx="62.4" cy="242.51" r="1.1" fill="#111" stroke="none" stroke-width="0"/>
<circle cx="73" cy="237.54" r="1.1" fill="#111" stroke="none" stroke-width="0"/>
<circle cx="75" cy="236.06" r="1.1" fill="#111" stroke="none" stroke-width="0"/>
<circle cx="77" cy="240.03" r="1.1" fill="#111" stroke="none" stroke-width="0"/>
<line x1="36.6" y1="283.7" x2="84.6" y2="283.7" stroke="#333" stroke-width="1.1"/>
<line x1="45.6" y1="283.7" x2="45.6" y2="286.2" stroke="#333" stroke-width="1"/>
<line x1="60.4" y1="283.7" x2="60.4" y2="286.2" stroke="#333" stroke-width="1"/>
<line x1="75" y1="283.7" x2="75" y2="286.2" stroke="#333" stroke-width="1"/>
<line x1="39.6" y1="289.4" x2="51.6" y2="289.4" stroke="#6f7378" stroke-width="1.3"/>
<line x1="54.4" y1="289.4" x2="66.4" y2="289.4" stroke="#6f7378" stroke-width="1.3"/>
<line x1="69" y1="289.4" x2="81" y2="289.4" stroke="#6f7378" stroke-width="1.3"/>
<path d="M60.4 231.6 V228.6 H75 V231.6" stroke="#444" stroke-width="0.9" fill="none"/>
<text x="67.7" y="228.7" font-size="5.4" text-anchor="middle" font-weight="normal" fill="#222" stroke="#222" stroke-width="0.2">*</text>
<text x="0" y="0" font-size="6.3" text-anchor="end" font-weight="normal" fill="#222" transform="translate(48.4 295.2) rotate(-45) scale(0.93 1)" stroke="#222" stroke-width="0.2">Unstim.</text>
<text x="0" y="0" font-size="6.3" text-anchor="end" font-weight="normal" fill="#222" transform="translate(63.2 295.2) rotate(-45) scale(0.93 1)" stroke="#222" stroke-width="0.2">Stim.</text>
<text x="0" y="0" font-size="6.3" text-anchor="end" font-weight="normal" fill="#222" transform="translate(77.8 295.2) rotate(-45) scale(0.93 1)" stroke="#222" stroke-width="0.2">Stim. + Block</text>
<line x1="54.8" y1="323.7" x2="81.7" y2="323.7" stroke="#4a4a4a" stroke-width="1.3"/>
<text x="68.25" y="331.6" font-size="6.1" text-anchor="middle" font-weight="normal" fill="#222" stroke="#222" stroke-width="0.2">5 min</text>
<text x="91.8" y="179.6" font-size="10.4" text-anchor="start" font-weight="bold" fill="#111">E</text>
<line x1="121.5" y1="209" x2="121.5" y2="284.2" stroke="#333" stroke-width="1.2"/>
<line x1="118.8" y1="283.5" x2="121.5" y2="283.5" stroke="#333" stroke-width="1.1"/>
<text x="0" y="0" font-size="6.4" text-anchor="end" font-weight="normal" fill="#222" transform="translate(115.5 285.85) scale(0.94 1)" stroke="#222" stroke-width="0.2">0</text>
<line x1="118.8" y1="269.5" x2="121.5" y2="269.5" stroke="#333" stroke-width="1.1"/>
<text x="0" y="0" font-size="6.4" text-anchor="end" font-weight="normal" fill="#222" transform="translate(115.5 271.37) scale(0.94 1)" stroke="#222" stroke-width="0.2">1000</text>
<line x1="118.8" y1="254.5" x2="121.5" y2="254.5" stroke="#333" stroke-width="1.1"/>
<text x="0" y="0" font-size="6.4" text-anchor="end" font-weight="normal" fill="#222" transform="translate(115.5 256.89) scale(0.94 1)" stroke="#222" stroke-width="0.2">2000</text>
<line x1="118.8" y1="240.5" x2="121.5" y2="240.5" stroke="#333" stroke-width="1.1"/>
<text x="0" y="0" font-size="6.4" text-anchor="end" font-weight="normal" fill="#222" transform="translate(115.5 242.41) scale(0.94 1)" stroke="#222" stroke-width="0.2">3000</text>
<line x1="118.8" y1="225.5" x2="121.5" y2="225.5" stroke="#333" stroke-width="1.1"/>
<text x="0" y="0" font-size="6.4" text-anchor="end" font-weight="normal" fill="#222" transform="translate(115.5 227.93) scale(0.94 1)" stroke="#222" stroke-width="0.2">4000</text>
<line x1="118.8" y1="211.5" x2="121.5" y2="211.5" stroke="#333" stroke-width="1.1"/>
<text x="0" y="0" font-size="6.4" text-anchor="end" font-weight="normal" fill="#222" transform="translate(115.5 213.45) scale(0.94 1)" stroke="#222" stroke-width="0.2">5000</text>
<text x="0" y="0" font-size="8" text-anchor="middle" font-weight="bold" fill="#222" transform="translate(98.6 246.4) rotate(-90) scale(0.67 1)" stroke="#222" stroke-width="0.15">MFI of CD4+</text>
<text x="0" y="0" font-size="8.7" text-anchor="middle" font-weight="normal" fill="#222" transform="translate(145.4 192.3) scale(0.92 1)" stroke="#222" stroke-width="0.18">pZAP70</text>
<text x="0" y="0" font-size="8.7" text-anchor="middle" font-weight="normal" fill="#222" transform="translate(145.4 201.7) scale(0.92 1)" stroke="#222" stroke-width="0.18">Y319 Y351</text>
<rect x="125.9" y="268.5" width="9.2" height="15.2" fill="#c8102e"/>
<rect x="140.5" y="237.36" width="9.2" height="46.34" fill="#1e4d86"/>
<rect x="155.2" y="237.8" width="9.2" height="45.9" fill="#a8bf86"/>
<line x1="130.5" y1="268.5" x2="130.5" y2="265.6" stroke="#222" stroke-width="0.8"/>
<line x1="129.1" y1="265.6" x2="131.9" y2="265.6" stroke="#222" stroke-width="0.8"/>
<line x1="145.1" y1="237.36" x2="145.1" y2="231.57" stroke="#222" stroke-width="0.8"/>
<line x1="143.7" y1="231.57" x2="146.5" y2="231.57" stroke="#222" stroke-width="0.8"/>
<line x1="159.8" y1="237.8" x2="159.8" y2="231.28" stroke="#222" stroke-width="0.8"/>
<line x1="158.4" y1="231.28" x2="161.2" y2="231.28" stroke="#222" stroke-width="0.8"/>
<circle cx="128.5" cy="264.88" r="1.1" fill="#111" stroke="none" stroke-width="0"/>
<circle cx="130.5" cy="267.77" r="1.1" fill="#111" stroke="none" stroke-width="0"/>
<circle cx="132.5" cy="269.22" r="1.1" fill="#111" stroke="none" stroke-width="0"/>
<circle cx="145.1" cy="222.16" r="1.1" fill="#111" stroke="none" stroke-width="0"/>
<circle cx="143.6" cy="237.36" r="1.1" fill="#111" stroke="none" stroke-width="0"/>
<circle cx="146.6" cy="240.26" r="1.1" fill="#111" stroke="none" stroke-width="0"/>
<circle cx="159.8" cy="221.44" r="1.1" fill="#111" stroke="none" stroke-width="0"/>
<circle cx="159.8" cy="237.36" r="1.1" fill="#111" stroke="none" stroke-width="0"/>
<circle cx="158.3" cy="242.43" r="1.1" fill="#111" stroke="none" stroke-width="0"/>
<circle cx="161.3" cy="242.43" r="1.1" fill="#111" stroke="none" stroke-width="0"/>
<line x1="121.5" y1="283.7" x2="169.2" y2="283.7" stroke="#333" stroke-width="1.1"/>
<line x1="130.5" y1="283.7" x2="130.5" y2="286.2" stroke="#333" stroke-width="1"/>
<line x1="145.1" y1="283.7" x2="145.1" y2="286.2" stroke="#333" stroke-width="1"/>
<line x1="159.8" y1="283.7" x2="159.8" y2="286.2" stroke="#333" stroke-width="1"/>
<line x1="124.5" y1="289.4" x2="136.5" y2="289.4" stroke="#6f7378" stroke-width="1.3"/>
<line x1="139.1" y1="289.4" x2="151.1" y2="289.4" stroke="#6f7378" stroke-width="1.3"/>
<line x1="153.8" y1="289.4" x2="165.8" y2="289.4" stroke="#6f7378" stroke-width="1.3"/>
<path d="M145.1 215.1 V212.1 H159.8 V215.1" stroke="#444" stroke-width="0.9" fill="none"/>
<text x="152.45" y="210.5" font-size="5.4" text-anchor="middle" font-weight="normal" fill="#222" stroke="#222" stroke-width="0.2">ns</text>
<text x="0" y="0" font-size="6.3" text-anchor="end" font-weight="normal" fill="#222" transform="translate(133.3 295.2) rotate(-45) scale(0.93 1)" stroke="#222" stroke-width="0.2">Unstim.</text>
<text x="0" y="0" font-size="6.3" text-anchor="end" font-weight="normal" fill="#222" transform="translate(147.9 295.2) rotate(-45) scale(0.93 1)" stroke="#222" stroke-width="0.2">Stim.</text>
<text x="0" y="0" font-size="6.3" text-anchor="end" font-weight="normal" fill="#222" transform="translate(162.6 295.2) rotate(-45) scale(0.93 1)" stroke="#222" stroke-width="0.2">Stim. + Block</text>
<line x1="138.8" y1="324" x2="166.7" y2="324" stroke="#4a4a4a" stroke-width="1.3"/>
<text x="152.75" y="331.8" font-size="6.1" text-anchor="middle" font-weight="normal" fill="#222" stroke="#222" stroke-width="0.2">5 min</text>
<line x1="36.4" y1="369.5" x2="36.4" y2="446.8" stroke="#333" stroke-width="1.2"/>
<line x1="33.7" y1="446.5" x2="36.4" y2="446.5" stroke="#333" stroke-width="1.1"/>
<text x="0" y="0" font-size="6.4" text-anchor="end" font-weight="normal" fill="#222" transform="translate(30.4 448.45) scale(0.94 1)" stroke="#222" stroke-width="0.2">0</text>
<line x1="33.7" y1="427.5" x2="36.4" y2="427.5" stroke="#333" stroke-width="1.1"/>
<text x="0" y="0" font-size="6.4" text-anchor="end" font-weight="normal" fill="#222" transform="translate(30.4 429.8) scale(0.94 1)" stroke="#222" stroke-width="0.2">500</text>
<line x1="33.7" y1="409.5" x2="36.4" y2="409.5" stroke="#333" stroke-width="1.1"/>
<text x="0" y="0" font-size="6.4" text-anchor="end" font-weight="normal" fill="#222" transform="translate(30.4 411.15) scale(0.94 1)" stroke="#222" stroke-width="0.2">1000</text>
<line x1="33.7" y1="390.5" x2="36.4" y2="390.5" stroke="#333" stroke-width="1.1"/>
<text x="0" y="0" font-size="6.4" text-anchor="end" font-weight="normal" fill="#222" transform="translate(30.4 392.5) scale(0.94 1)" stroke="#222" stroke-width="0.2">1500</text>
<line x1="33.7" y1="371.5" x2="36.4" y2="371.5" stroke="#333" stroke-width="1.1"/>
<text x="0" y="0" font-size="6.4" text-anchor="end" font-weight="normal" fill="#222" transform="translate(30.4 373.85) scale(0.94 1)" stroke="#222" stroke-width="0.2">2000</text>
<text x="0" y="0" font-size="8" text-anchor="middle" font-weight="bold" fill="#222" transform="translate(13.7 408) rotate(-90) scale(0.67 1)" stroke="#222" stroke-width="0.15">MFI of CD8+</text>
<text x="0" y="0" font-size="8.7" text-anchor="middle" font-weight="normal" fill="#222" transform="translate(60.6 349.9) scale(0.92 1)" stroke="#222" stroke-width="0.18">pERK</text>
<text x="0" y="0" font-size="8.7" text-anchor="middle" font-weight="normal" fill="#222" transform="translate(60.6 359.3) scale(0.92 1)" stroke="#222" stroke-width="0.18">T202 Y204</text>
<rect x="41" y="433.25" width="9.2" height="13.06" fill="#c8102e"/>
<rect x="55.8" y="400.42" width="9.2" height="45.88" fill="#1e4d86"/>
<rect x="70.4" y="385.13" width="9.2" height="61.17" fill="#a8bf86"/>
<line x1="45.6" y1="433.25" x2="45.6" y2="432.69" stroke="#222" stroke-width="0.8"/>
<line x1="44.2" y1="432.69" x2="47" y2="432.69" stroke="#222" stroke-width="0.8"/>
<line x1="60.4" y1="400.42" x2="60.4" y2="395.94" stroke="#222" stroke-width="0.8"/>
<line x1="59" y1="395.94" x2="61.8" y2="395.94" stroke="#222" stroke-width="0.8"/>
<line x1="75" y1="385.13" x2="75" y2="382.14" stroke="#222" stroke-width="0.8"/>
<line x1="73.6" y1="382.14" x2="76.4" y2="382.14" stroke="#222" stroke-width="0.8"/>
<circle cx="43.6" cy="432.87" r="1.1" fill="#111" stroke="none" stroke-width="0"/>
<circle cx="45.6" cy="433.62" r="1.1" fill="#111" stroke="none" stroke-width="0"/>
<circle cx="47.6" cy="432.5" r="1.1" fill="#111" stroke="none" stroke-width="0"/>
<circle cx="60.4" cy="390.35" r="1.1" fill="#111" stroke="none" stroke-width="0"/>
<circle cx="58.9" cy="399.68" r="1.1" fill="#111" stroke="none" stroke-width="0"/>
<circle cx="61.9" cy="405.27" r="1.1" fill="#111" stroke="none" stroke-width="0"/>
<circle cx="75" cy="379.91" r="1.1" fill="#111" stroke="none" stroke-width="0"/>
<circle cx="73.5" cy="382.89" r="1.1" fill="#111" stroke="none" stroke-width="0"/>
<circle cx="76.5" cy="388.49" r="1.1" fill="#111" stroke="none" stroke-width="0"/>
<line x1="36.4" y1="446.3" x2="84.6" y2="446.3" stroke="#333" stroke-width="1.1"/>
<line x1="45.6" y1="446.3" x2="45.6" y2="448.8" stroke="#333" stroke-width="1"/>
<line x1="60.4" y1="446.3" x2="60.4" y2="448.8" stroke="#333" stroke-width="1"/>
<line x1="75" y1="446.3" x2="75" y2="448.8" stroke="#333" stroke-width="1"/>
<line x1="39.6" y1="451.7" x2="51.6" y2="451.7" stroke="#6f7378" stroke-width="1.3"/>
<line x1="54.4" y1="451.7" x2="66.4" y2="451.7" stroke="#6f7378" stroke-width="1.3"/>
<line x1="69" y1="451.7" x2="81" y2="451.7" stroke="#6f7378" stroke-width="1.3"/>
<path d="M60.4 373.8 V370.8 H75 V373.8" stroke="#444" stroke-width="0.9" fill="none"/>
<text x="67.7" y="369.2" font-size="5.4" text-anchor="middle" font-weight="normal" fill="#222" stroke="#222" stroke-width="0.2">ns</text>
<text x="0" y="0" font-size="6.3" text-anchor="end" font-weight="normal" fill="#222" transform="translate(48.4 457.5) rotate(-45) scale(0.93 1)" stroke="#222" stroke-width="0.2">Unstim.</text>
<text x="0" y="0" font-size="6.3" text-anchor="end" font-weight="normal" fill="#222" transform="translate(63.2 457.5) rotate(-45) scale(0.93 1)" stroke="#222" stroke-width="0.2">Stim.</text>
<text x="0" y="0" font-size="6.3" text-anchor="end" font-weight="normal" fill="#222" transform="translate(77.8 457.5) rotate(-45) scale(0.93 1)" stroke="#222" stroke-width="0.2">Stim. + Block</text>
<line x1="54.8" y1="486.9" x2="82.7" y2="486.9" stroke="#4a4a4a" stroke-width="1.3"/>
<text x="68.75" y="494.8" font-size="6.1" text-anchor="middle" font-weight="normal" fill="#222" stroke="#222" stroke-width="0.2">5 min</text>
<line x1="121.3" y1="372" x2="121.3" y2="446.8" stroke="#333" stroke-width="1.2"/>
<line x1="118.6" y1="446.5" x2="121.3" y2="446.5" stroke="#333" stroke-width="1.1"/>
<text x="0" y="0" font-size="6.4" text-anchor="end" font-weight="normal" fill="#222" transform="translate(115.3 448.45) scale(0.94 1)" stroke="#222" stroke-width="0.2">0</text>
<line x1="118.6" y1="428.5" x2="121.3" y2="428.5" stroke="#333" stroke-width="1.1"/>
<text x="0" y="0" font-size="6.4" text-anchor="end" font-weight="normal" fill="#222" transform="translate(115.3 430.37) scale(0.94 1)" stroke="#222" stroke-width="0.2">2000</text>
<line x1="118.6" y1="410.5" x2="121.3" y2="410.5" stroke="#333" stroke-width="1.1"/>
<text x="0" y="0" font-size="6.4" text-anchor="end" font-weight="normal" fill="#222" transform="translate(115.3 412.29) scale(0.94 1)" stroke="#222" stroke-width="0.2">4000</text>
<line x1="118.6" y1="392.5" x2="121.3" y2="392.5" stroke="#333" stroke-width="1.1"/>
<text x="0" y="0" font-size="6.4" text-anchor="end" font-weight="normal" fill="#222" transform="translate(115.3 394.21) scale(0.94 1)" stroke="#222" stroke-width="0.2">6000</text>
<line x1="118.6" y1="373.5" x2="121.3" y2="373.5" stroke="#333" stroke-width="1.1"/>
<text x="0" y="0" font-size="6.4" text-anchor="end" font-weight="normal" fill="#222" transform="translate(115.3 376.13) scale(0.94 1)" stroke="#222" stroke-width="0.2">8000</text>
<text x="0" y="0" font-size="8" text-anchor="middle" font-weight="bold" fill="#222" transform="translate(98.6 409) rotate(-90) scale(0.67 1)" stroke="#222" stroke-width="0.15">MFI of CD8+</text>
<text x="0" y="0" font-size="8.7" text-anchor="middle" font-weight="normal" fill="#222" transform="translate(145.4 349.9) scale(0.92 1)" stroke="#222" stroke-width="0.18">pZAP70</text>
<text x="0" y="0" font-size="8.7" text-anchor="middle" font-weight="normal" fill="#222" transform="translate(145.4 359.3) scale(0.92 1)" stroke="#222" stroke-width="0.18">Y319 Y351</text>
<rect x="125.9" y="430.93" width="9.2" height="15.37" fill="#c8102e"/>
<rect x="140.5" y="416.47" width="9.2" height="29.83" fill="#1e4d86"/>
<rect x="155.2" y="406.07" width="9.2" height="40.23" fill="#a8bf86"/>
<line x1="130.5" y1="430.93" x2="130.5" y2="428.67" stroke="#222" stroke-width="0.8"/>
<line x1="129.1" y1="428.67" x2="131.9" y2="428.67" stroke="#222" stroke-width="0.8"/>
<line x1="145.1" y1="416.47" x2="145.1" y2="411.5" stroke="#222" stroke-width="0.8"/>
<line x1="143.7" y1="411.5" x2="146.5" y2="411.5" stroke="#222" stroke-width="0.8"/>
<line x1="159.8" y1="406.07" x2="159.8" y2="400.65" stroke="#222" stroke-width="0.8"/>
<line x1="158.4" y1="400.65" x2="161.2" y2="400.65" stroke="#222" stroke-width="0.8"/>
<circle cx="128.5" cy="428.22" r="1.1" fill="#111" stroke="none" stroke-width="0"/>
<circle cx="130.5" cy="430.93" r="1.1" fill="#111" stroke="none" stroke-width="0"/>
<circle cx="132.5" cy="432.74" r="1.1" fill="#111" stroke="none" stroke-width="0"/>
<circle cx="145.1" cy="402.46" r="1.1" fill="#111" stroke="none" stroke-width="0"/>
<circle cx="145.1" cy="416.47" r="1.1" fill="#111" stroke="none" stroke-width="0"/>
<circle cx="145.1" cy="422.8" r="1.1" fill="#111" stroke="none" stroke-width="0"/>
<circle cx="159.8" cy="392.06" r="1.1" fill="#111" stroke="none" stroke-width="0"/>
<circle cx="159.8" cy="402.91" r="1.1" fill="#111" stroke="none" stroke-width="0"/>
<circle cx="159.8" cy="409.24" r="1.1" fill="#111" stroke="none" stroke-width="0"/>
<circle cx="159.8" cy="420.08" r="1.1" fill="#111" stroke="none" stroke-width="0"/>
<line x1="121.3" y1="446.3" x2="169.2" y2="446.3" stroke="#333" stroke-width="1.1"/>
<line x1="130.5" y1="446.3" x2="130.5" y2="448.8" stroke="#333" stroke-width="1"/>
<line x1="145.1" y1="446.3" x2="145.1" y2="448.8" stroke="#333" stroke-width="1"/>
<line x1="159.8" y1="446.3" x2="159.8" y2="448.8" stroke="#333" stroke-width="1"/>
<line x1="124.5" y1="451.7" x2="136.5" y2="451.7" stroke="#6f7378" stroke-width="1.3"/>
<line x1="139.1" y1="451.7" x2="151.1" y2="451.7" stroke="#6f7378" stroke-width="1.3"/>
<line x1="153.8" y1="451.7" x2="165.8" y2="451.7" stroke="#6f7378" stroke-width="1.3"/>
<path d="M145.1 386.8 V383.8 H159.8 V386.8" stroke="#444" stroke-width="0.9" fill="none"/>
<text x="152.45" y="383.9" font-size="5.4" text-anchor="middle" font-weight="normal" fill="#222" stroke="#222" stroke-width="0.2">*</text>
<text x="0" y="0" font-size="6.3" text-anchor="end" font-weight="normal" fill="#222" transform="translate(133.3 457.5) rotate(-45) scale(0.93 1)" stroke="#222" stroke-width="0.2">Unstim.</text>
<text x="0" y="0" font-size="6.3" text-anchor="end" font-weight="normal" fill="#222" transform="translate(147.9 457.5) rotate(-45) scale(0.93 1)" stroke="#222" stroke-width="0.2">Stim.</text>
<text x="0" y="0" font-size="6.3" text-anchor="end" font-weight="normal" fill="#222" transform="translate(162.6 457.5) rotate(-45) scale(0.93 1)" stroke="#222" stroke-width="0.2">Stim. + Block</text>
<line x1="138.8" y1="486.9" x2="166.7" y2="486.9" stroke="#4a4a4a" stroke-width="1.3"/>
<text x="152.75" y="494.8" font-size="6.1" text-anchor="middle" font-weight="normal" fill="#222" stroke="#222" stroke-width="0.2">5 min</text>
<text x="175.8" y="179.6" font-size="10.4" text-anchor="start" font-weight="bold" fill="#111">F</text>
<text x="313.6" y="179.6" font-size="10.4" text-anchor="start" font-weight="bold" fill="#111">G</text>
<text x="0" y="0" font-size="8.7" text-anchor="middle" font-weight="normal" fill="#222" transform="translate(255.3 201.8) scale(0.92 1)" stroke="#222" stroke-width="0.18">CD25</text>
<line x1="202.1" y1="211.5" x2="202.1" y2="284.3" stroke="#333" stroke-width="1.2"/>
<line x1="199.4" y1="283.5" x2="202.1" y2="283.5" stroke="#333" stroke-width="1.1"/>
<text x="0" y="0" font-size="6.4" text-anchor="end" font-weight="normal" fill="#222" transform="translate(196.1 285.95) scale(0.94 1)" stroke="#222" stroke-width="0.2">0</text>
<line x1="199.4" y1="269.5" x2="202.1" y2="269.5" stroke="#333" stroke-width="1.1"/>
<text x="0" y="0" font-size="6.4" text-anchor="end" font-weight="normal" fill="#222" transform="translate(196.1 271.86) scale(0.94 1)" stroke="#222" stroke-width="0.2">20</text>
<line x1="199.4" y1="255.5" x2="202.1" y2="255.5" stroke="#333" stroke-width="1.1"/>
<text x="0" y="0" font-size="6.4" text-anchor="end" font-weight="normal" fill="#222" transform="translate(196.1 257.77) scale(0.94 1)" stroke="#222" stroke-width="0.2">40</text>
<line x1="199.4" y1="241.5" x2="202.1" y2="241.5" stroke="#333" stroke-width="1.1"/>
<text x="0" y="0" font-size="6.4" text-anchor="end" font-weight="normal" fill="#222" transform="translate(196.1 243.68) scale(0.94 1)" stroke="#222" stroke-width="0.2">60</text>
<line x1="199.4" y1="227.5" x2="202.1" y2="227.5" stroke="#333" stroke-width="1.1"/>
<text x="0" y="0" font-size="6.4" text-anchor="end" font-weight="normal" fill="#222" transform="translate(196.1 229.59) scale(0.94 1)" stroke="#222" stroke-width="0.2">80</text>
<line x1="199.4" y1="213.5" x2="202.1" y2="213.5" stroke="#333" stroke-width="1.1"/>
<text x="0" y="0" font-size="6.4" text-anchor="end" font-weight="normal" fill="#222" transform="translate(196.1 215.5) scale(0.94 1)" stroke="#222" stroke-width="0.2">100</text>
<line x1="202.1" y1="283.8" x2="292.7" y2="283.8" stroke="#333" stroke-width="1.1"/>
<line x1="297.3" y1="283.8" x2="307.7" y2="283.8" stroke="#333" stroke-width="1.1"/>
<line x1="202.3" y1="283.8" x2="202.3" y2="286.3" stroke="#333" stroke-width="1"/>
<text x="0" y="0" font-size="6.4" text-anchor="middle" font-weight="normal" fill="#222" transform="translate(202.3 294.8) scale(0.94 1)" stroke="#222" stroke-width="0.2">0</text>
<line x1="211.3" y1="283.8" x2="211.3" y2="286.3" stroke="#333" stroke-width="1"/>
<text x="0" y="0" font-size="6.4" text-anchor="middle" font-weight="normal" fill="#222" transform="translate(211.3 294.8) scale(0.94 1)" stroke="#222" stroke-width="0.2">1</text>
<line x1="220.3" y1="283.8" x2="220.3" y2="286.3" stroke="#333" stroke-width="1"/>
<text x="0" y="0" font-size="6.4" text-anchor="middle" font-weight="normal" fill="#222" transform="translate(220.3 294.8) scale(0.94 1)" stroke="#222" stroke-width="0.2">2</text>
<line x1="229.3" y1="283.8" x2="229.3" y2="286.3" stroke="#333" stroke-width="1"/>
<text x="0" y="0" font-size="6.4" text-anchor="middle" font-weight="normal" fill="#222" transform="translate(229.3 294.8) scale(0.94 1)" stroke="#222" stroke-width="0.2">3</text>
<line x1="238.3" y1="283.8" x2="238.3" y2="286.3" stroke="#333" stroke-width="1"/>
<text x="0" y="0" font-size="6.4" text-anchor="middle" font-weight="normal" fill="#222" transform="translate(238.3 294.8) scale(0.94 1)" stroke="#222" stroke-width="0.2">4</text>
<line x1="247.3" y1="283.8" x2="247.3" y2="286.3" stroke="#333" stroke-width="1"/>
<text x="0" y="0" font-size="6.4" text-anchor="middle" font-weight="normal" fill="#222" transform="translate(247.3 294.8) scale(0.94 1)" stroke="#222" stroke-width="0.2">5</text>
<line x1="256.3" y1="283.8" x2="256.3" y2="286.3" stroke="#333" stroke-width="1"/>
<text x="0" y="0" font-size="6.4" text-anchor="middle" font-weight="normal" fill="#222" transform="translate(256.3 294.8) scale(0.94 1)" stroke="#222" stroke-width="0.2">6</text>
<line x1="265.3" y1="283.8" x2="265.3" y2="286.3" stroke="#333" stroke-width="1"/>
<text x="0" y="0" font-size="6.4" text-anchor="middle" font-weight="normal" fill="#222" transform="translate(265.3 294.8) scale(0.94 1)" stroke="#222" stroke-width="0.2">7</text>
<line x1="274.3" y1="283.8" x2="274.3" y2="286.3" stroke="#333" stroke-width="1"/>
<text x="0" y="0" font-size="6.4" text-anchor="middle" font-weight="normal" fill="#222" transform="translate(274.3 294.8) scale(0.94 1)" stroke="#222" stroke-width="0.2">8</text>
<line x1="283.3" y1="283.8" x2="283.3" y2="286.3" stroke="#333" stroke-width="1"/>
<text x="0" y="0" font-size="6.4" text-anchor="middle" font-weight="normal" fill="#222" transform="translate(283.3 294.8) scale(0.94 1)" stroke="#222" stroke-width="0.2">9</text>
<line x1="292.3" y1="283.8" x2="292.3" y2="286.3" stroke="#333" stroke-width="1"/>
<text x="0" y="0" font-size="6.4" text-anchor="middle" font-weight="normal" fill="#222" transform="translate(292.3 294.8) scale(0.94 1)" stroke="#222" stroke-width="0.2">10</text>
<line x1="302.1" y1="283.8" x2="302.1" y2="286.3" stroke="#333" stroke-width="1"/>
<text x="0" y="0" font-size="6.4" text-anchor="middle" font-weight="normal" fill="#222" transform="translate(302.1 294.8) scale(0.94 1)" stroke="#222" stroke-width="0.2">16</text>
<text x="0" y="0" font-size="7.8" text-anchor="middle" font-weight="bold" fill="#222" transform="translate(255.3 306.4) scale(0.68 1)">Day</text>
<text x="0" y="0" font-size="8" text-anchor="middle" font-weight="bold" fill="#222" transform="translate(182.4 247.6) rotate(-90) scale(0.67 1)" stroke="#222" stroke-width="0.15">% of CD4</text>
<line x1="211.3" y1="270.06" x2="211.3" y2="278.52" stroke="#b01a42" stroke-width="0.8"/>
<line x1="210" y1="270.06" x2="212.6" y2="270.06" stroke="#b01a42" stroke-width="0.8"/>
<line x1="210" y1="278.52" x2="212.6" y2="278.52" stroke="#b01a42" stroke-width="0.8"/>
<line x1="220.3" y1="257.03" x2="220.3" y2="271.12" stroke="#b01a42" stroke-width="0.8"/>
<line x1="219" y1="257.03" x2="221.6" y2="257.03" stroke="#b01a42" stroke-width="0.8"/>
<line x1="219" y1="271.12" x2="221.6" y2="271.12" stroke="#b01a42" stroke-width="0.8"/>
<line x1="229.3" y1="235.89" x2="229.3" y2="252.8" stroke="#b01a42" stroke-width="0.8"/>
<line x1="228" y1="235.89" x2="230.6" y2="235.89" stroke="#b01a42" stroke-width="0.8"/>
<line x1="228" y1="252.8" x2="230.6" y2="252.8" stroke="#b01a42" stroke-width="0.8"/>
<line x1="238.3" y1="230.61" x2="238.3" y2="241.88" stroke="#b01a42" stroke-width="0.8"/>
<line x1="237" y1="230.61" x2="239.6" y2="230.61" stroke="#b01a42" stroke-width="0.8"/>
<line x1="237" y1="241.88" x2="239.6" y2="241.88" stroke="#b01a42" stroke-width="0.8"/>
<line x1="247.3" y1="224.27" x2="247.3" y2="228.5" stroke="#b01a42" stroke-width="0.8"/>
<line x1="246" y1="224.27" x2="248.6" y2="224.27" stroke="#b01a42" stroke-width="0.8"/>
<line x1="246" y1="228.5" x2="248.6" y2="228.5" stroke="#b01a42" stroke-width="0.8"/>
<line x1="256.3" y1="225.33" x2="256.3" y2="228.14" stroke="#b01a42" stroke-width="0.8"/>
<line x1="255" y1="225.33" x2="257.6" y2="225.33" stroke="#b01a42" stroke-width="0.8"/>
<line x1="255" y1="228.14" x2="257.6" y2="228.14" stroke="#b01a42" stroke-width="0.8"/>
<line x1="265.3" y1="226.38" x2="265.3" y2="239.06" stroke="#b01a42" stroke-width="0.8"/>
<line x1="264" y1="226.38" x2="266.6" y2="226.38" stroke="#b01a42" stroke-width="0.8"/>
<line x1="264" y1="239.06" x2="266.6" y2="239.06" stroke="#b01a42" stroke-width="0.8"/>
<line x1="274.3" y1="254.92" x2="274.3" y2="260.55" stroke="#b01a42" stroke-width="0.8"/>
<line x1="273" y1="254.92" x2="275.6" y2="254.92" stroke="#b01a42" stroke-width="0.8"/>
<line x1="273" y1="260.55" x2="275.6" y2="260.55" stroke="#b01a42" stroke-width="0.8"/>
<line x1="283.3" y1="260.55" x2="283.3" y2="264.78" stroke="#b01a42" stroke-width="0.8"/>
<line x1="282" y1="260.55" x2="284.6" y2="260.55" stroke="#b01a42" stroke-width="0.8"/>
<line x1="282" y1="264.78" x2="284.6" y2="264.78" stroke="#b01a42" stroke-width="0.8"/>
<line x1="292.3" y1="271.12" x2="292.3" y2="275.35" stroke="#b01a42" stroke-width="0.8"/>
<line x1="291" y1="271.12" x2="293.6" y2="271.12" stroke="#b01a42" stroke-width="0.8"/>
<line x1="291" y1="275.35" x2="293.6" y2="275.35" stroke="#b01a42" stroke-width="0.8"/>
<line x1="302.1" y1="277.46" x2="302.1" y2="280.28" stroke="#b01a42" stroke-width="0.8"/>
<line x1="300.8" y1="277.46" x2="303.4" y2="277.46" stroke="#b01a42" stroke-width="0.8"/>
<line x1="300.8" y1="280.28" x2="303.4" y2="280.28" stroke="#b01a42" stroke-width="0.8"/>
<line x1="211.3" y1="255.27" x2="211.3" y2="272.18" stroke="#b8284e" stroke-width="0.8"/>
<line x1="210" y1="255.27" x2="212.6" y2="255.27" stroke="#b8284e" stroke-width="0.8"/>
<line x1="210" y1="272.18" x2="212.6" y2="272.18" stroke="#b8284e" stroke-width="0.8"/>
<line x1="220.3" y1="233.43" x2="220.3" y2="257.38" stroke="#b8284e" stroke-width="0.8"/>
<line x1="219" y1="233.43" x2="221.6" y2="233.43" stroke="#b8284e" stroke-width="0.8"/>
<line x1="219" y1="257.38" x2="221.6" y2="257.38" stroke="#b8284e" stroke-width="0.8"/>
<line x1="229.3" y1="222.51" x2="229.3" y2="238.01" stroke="#b8284e" stroke-width="0.8"/>
<line x1="228" y1="222.51" x2="230.6" y2="222.51" stroke="#b8284e" stroke-width="0.8"/>
<line x1="228" y1="238.01" x2="230.6" y2="238.01" stroke="#b8284e" stroke-width="0.8"/>
<line x1="238.3" y1="221.8" x2="238.3" y2="230.26" stroke="#b8284e" stroke-width="0.8"/>
<line x1="237" y1="221.8" x2="239.6" y2="221.8" stroke="#b8284e" stroke-width="0.8"/>
<line x1="237" y1="230.26" x2="239.6" y2="230.26" stroke="#b8284e" stroke-width="0.8"/>
<line x1="247.3" y1="219.69" x2="247.3" y2="222.51" stroke="#b8284e" stroke-width="0.8"/>
<line x1="246" y1="219.69" x2="248.6" y2="219.69" stroke="#b8284e" stroke-width="0.8"/>
<line x1="246" y1="222.51" x2="248.6" y2="222.51" stroke="#b8284e" stroke-width="0.8"/>
<line x1="256.3" y1="224.62" x2="256.3" y2="227.44" stroke="#b8284e" stroke-width="0.8"/>
<line x1="255" y1="224.62" x2="257.6" y2="224.62" stroke="#b8284e" stroke-width="0.8"/>
<line x1="255" y1="227.44" x2="257.6" y2="227.44" stroke="#b8284e" stroke-width="0.8"/>
<line x1="265.3" y1="226.74" x2="265.3" y2="233.78" stroke="#b8284e" stroke-width="0.8"/>
<line x1="264" y1="226.74" x2="266.6" y2="226.74" stroke="#b8284e" stroke-width="0.8"/>
<line x1="264" y1="233.78" x2="266.6" y2="233.78" stroke="#b8284e" stroke-width="0.8"/>
<line x1="274.3" y1="256.32" x2="274.3" y2="261.96" stroke="#b8284e" stroke-width="0.8"/>
<line x1="273" y1="256.32" x2="275.6" y2="256.32" stroke="#b8284e" stroke-width="0.8"/>
<line x1="273" y1="261.96" x2="275.6" y2="261.96" stroke="#b8284e" stroke-width="0.8"/>
<line x1="283.3" y1="264.07" x2="283.3" y2="268.3" stroke="#b8284e" stroke-width="0.8"/>
<line x1="282" y1="264.07" x2="284.6" y2="264.07" stroke="#b8284e" stroke-width="0.8"/>
<line x1="282" y1="268.3" x2="284.6" y2="268.3" stroke="#b8284e" stroke-width="0.8"/>
<line x1="292.3" y1="274.64" x2="292.3" y2="278.87" stroke="#b8284e" stroke-width="0.8"/>
<line x1="291" y1="274.64" x2="293.6" y2="274.64" stroke="#b8284e" stroke-width="0.8"/>
<line x1="291" y1="278.87" x2="293.6" y2="278.87" stroke="#b8284e" stroke-width="0.8"/>
<line x1="302.1" y1="275.35" x2="302.1" y2="278.16" stroke="#b8284e" stroke-width="0.8"/>
<line x1="300.8" y1="275.35" x2="303.4" y2="275.35" stroke="#b8284e" stroke-width="0.8"/>
<line x1="300.8" y1="278.16" x2="303.4" y2="278.16" stroke="#b8284e" stroke-width="0.8"/>
<path d="M211.3 274.29 L220.3 264.07 L229.3 244.35 L238.3 236.25 L247.3 226.38 L256.3 226.74 L265.3 232.72 L274.3 257.73 L283.3 262.67 L292.3 273.23" stroke="#b3123d" stroke-width="1.25" fill="none" stroke-linejoin="round"/>
<path d="M211.3 263.72 L220.3 245.4 L229.3 230.26 L238.3 226.03 L247.3 221.1 L256.3 226.03 L265.3 230.26 L274.3 259.14 L283.3 266.19 L292.3 276.75" stroke="#b3123d" stroke-width="1.1" fill="none" stroke-dasharray="2.2 1.6"/>
<line x1="297.3" y1="276.11" x2="302.1" y2="278.87" stroke="#b3123d" stroke-width="1.25"/>
<line x1="297.3" y1="276.75" x2="302.1" y2="276.75" stroke="#b3123d" stroke-width="1.1" stroke-dasharray="2 1.3"/>
<circle cx="211.3" cy="274.29" r="1.5" fill="#b3123d" stroke="none" stroke-width="0"/>
<circle cx="220.3" cy="264.07" r="1.5" fill="#b3123d" stroke="none" stroke-width="0"/>
<circle cx="229.3" cy="244.35" r="1.5" fill="#b3123d" stroke="none" stroke-width="0"/>
<circle cx="238.3" cy="236.25" r="1.5" fill="#b3123d" stroke="none" stroke-width="0"/>
<circle cx="247.3" cy="226.38" r="1.5" fill="#b3123d" stroke="none" stroke-width="0"/>
<circle cx="256.3" cy="226.74" r="1.5" fill="#b3123d" stroke="none" stroke-width="0"/>
<circle cx="265.3" cy="232.72" r="1.5" fill="#b3123d" stroke="none" stroke-width="0"/>
<circle cx="274.3" cy="257.73" r="1.5" fill="#b3123d" stroke="none" stroke-width="0"/>
<circle cx="283.3" cy="262.67" r="1.5" fill="#b3123d" stroke="none" stroke-width="0"/>
<circle cx="292.3" cy="273.23" r="1.5" fill="#b3123d" stroke="none" stroke-width="0"/>
<circle cx="302.1" cy="278.87" r="1.5" fill="#b3123d" stroke="none" stroke-width="0"/>
<circle cx="211.3" cy="263.72" r="1.45" fill="#fff" stroke="#b3123d" stroke-width="0.9"/>
<circle cx="220.3" cy="245.4" r="1.45" fill="#fff" stroke="#b3123d" stroke-width="0.9"/>
<circle cx="229.3" cy="230.26" r="1.45" fill="#fff" stroke="#b3123d" stroke-width="0.9"/>
<circle cx="238.3" cy="226.03" r="1.45" fill="#fff" stroke="#b3123d" stroke-width="0.9"/>
<circle cx="247.3" cy="221.1" r="1.45" fill="#fff" stroke="#b3123d" stroke-width="0.9"/>
<circle cx="256.3" cy="226.03" r="1.45" fill="#fff" stroke="#b3123d" stroke-width="0.9"/>
<circle cx="265.3" cy="230.26" r="1.45" fill="#fff" stroke="#b3123d" stroke-width="0.9"/>
<circle cx="274.3" cy="259.14" r="1.45" fill="#fff" stroke="#b3123d" stroke-width="0.9"/>
<circle cx="283.3" cy="266.19" r="1.45" fill="#fff" stroke="#b3123d" stroke-width="0.9"/>
<circle cx="292.3" cy="276.75" r="1.45" fill="#fff" stroke="#b3123d" stroke-width="0.9"/>
<circle cx="302.1" cy="276.75" r="1.45" fill="#fff" stroke="#b3123d" stroke-width="0.9"/>
<text x="220.4" y="226" font-size="5.5" text-anchor="middle" font-weight="normal" fill="#333" stroke="#333" stroke-width="0.2">*</text>
<text x="229.4" y="215" font-size="5.5" text-anchor="middle" font-weight="normal" fill="#333" stroke="#333" stroke-width="0.2">*</text>
<text x="0" y="0" font-size="8.7" text-anchor="middle" font-weight="normal" fill="#222" transform="translate(393.6 201.8) scale(0.92 1)" stroke="#222" stroke-width="0.18">CD25</text>
<line x1="340.6" y1="211.5" x2="340.6" y2="284.3" stroke="#333" stroke-width="1.2"/>
<line x1="337.9" y1="283.5" x2="340.6" y2="283.5" stroke="#333" stroke-width="1.1"/>
<text x="0" y="0" font-size="6.4" text-anchor="end" font-weight="normal" fill="#222" transform="translate(334.6 285.95) scale(0.94 1)" stroke="#222" stroke-width="0.2">0</text>
<line x1="337.9" y1="269.5" x2="340.6" y2="269.5" stroke="#333" stroke-width="1.1"/>
<text x="0" y="0" font-size="6.4" text-anchor="end" font-weight="normal" fill="#222" transform="translate(334.6 271.86) scale(0.94 1)" stroke="#222" stroke-width="0.2">20</text>
<line x1="337.9" y1="255.5" x2="340.6" y2="255.5" stroke="#333" stroke-width="1.1"/>
<text x="0" y="0" font-size="6.4" text-anchor="end" font-weight="normal" fill="#222" transform="translate(334.6 257.77) scale(0.94 1)" stroke="#222" stroke-width="0.2">40</text>
<line x1="337.9" y1="241.5" x2="340.6" y2="241.5" stroke="#333" stroke-width="1.1"/>
<text x="0" y="0" font-size="6.4" text-anchor="end" font-weight="normal" fill="#222" transform="translate(334.6 243.68) scale(0.94 1)" stroke="#222" stroke-width="0.2">60</text>
<line x1="337.9" y1="227.5" x2="340.6" y2="227.5" stroke="#333" stroke-width="1.1"/>
<text x="0" y="0" font-size="6.4" text-anchor="end" font-weight="normal" fill="#222" transform="translate(334.6 229.59) scale(0.94 1)" stroke="#222" stroke-width="0.2">80</text>
<line x1="337.9" y1="213.5" x2="340.6" y2="213.5" stroke="#333" stroke-width="1.1"/>
<text x="0" y="0" font-size="6.4" text-anchor="end" font-weight="normal" fill="#222" transform="translate(334.6 215.5) scale(0.94 1)" stroke="#222" stroke-width="0.2">100</text>
<line x1="340.6" y1="283.8" x2="431.1" y2="283.8" stroke="#333" stroke-width="1.1"/>
<line x1="435.2" y1="283.8" x2="445.6" y2="283.8" stroke="#333" stroke-width="1.1"/>
<line x1="341" y1="283.8" x2="341" y2="286.3" stroke="#333" stroke-width="1"/>
<text x="0" y="0" font-size="6.4" text-anchor="middle" font-weight="normal" fill="#222" transform="translate(341 294.8) scale(0.94 1)" stroke="#222" stroke-width="0.2">0</text>
<line x1="349.97" y1="283.8" x2="349.97" y2="286.3" stroke="#333" stroke-width="1"/>
<text x="0" y="0" font-size="6.4" text-anchor="middle" font-weight="normal" fill="#222" transform="translate(349.97 294.8) scale(0.94 1)" stroke="#222" stroke-width="0.2">1</text>
<line x1="358.94" y1="283.8" x2="358.94" y2="286.3" stroke="#333" stroke-width="1"/>
<text x="0" y="0" font-size="6.4" text-anchor="middle" font-weight="normal" fill="#222" transform="translate(358.94 294.8) scale(0.94 1)" stroke="#222" stroke-width="0.2">2</text>
<line x1="367.91" y1="283.8" x2="367.91" y2="286.3" stroke="#333" stroke-width="1"/>
<text x="0" y="0" font-size="6.4" text-anchor="middle" font-weight="normal" fill="#222" transform="translate(367.91 294.8) scale(0.94 1)" stroke="#222" stroke-width="0.2">3</text>
<line x1="376.88" y1="283.8" x2="376.88" y2="286.3" stroke="#333" stroke-width="1"/>
<text x="0" y="0" font-size="6.4" text-anchor="middle" font-weight="normal" fill="#222" transform="translate(376.88 294.8) scale(0.94 1)" stroke="#222" stroke-width="0.2">4</text>
<line x1="385.85" y1="283.8" x2="385.85" y2="286.3" stroke="#333" stroke-width="1"/>
<text x="0" y="0" font-size="6.4" text-anchor="middle" font-weight="normal" fill="#222" transform="translate(385.85 294.8) scale(0.94 1)" stroke="#222" stroke-width="0.2">5</text>
<line x1="394.82" y1="283.8" x2="394.82" y2="286.3" stroke="#333" stroke-width="1"/>
<text x="0" y="0" font-size="6.4" text-anchor="middle" font-weight="normal" fill="#222" transform="translate(394.82 294.8) scale(0.94 1)" stroke="#222" stroke-width="0.2">6</text>
<line x1="403.79" y1="283.8" x2="403.79" y2="286.3" stroke="#333" stroke-width="1"/>
<text x="0" y="0" font-size="6.4" text-anchor="middle" font-weight="normal" fill="#222" transform="translate(403.79 294.8) scale(0.94 1)" stroke="#222" stroke-width="0.2">7</text>
<line x1="412.76" y1="283.8" x2="412.76" y2="286.3" stroke="#333" stroke-width="1"/>
<text x="0" y="0" font-size="6.4" text-anchor="middle" font-weight="normal" fill="#222" transform="translate(412.76 294.8) scale(0.94 1)" stroke="#222" stroke-width="0.2">8</text>
<line x1="421.73" y1="283.8" x2="421.73" y2="286.3" stroke="#333" stroke-width="1"/>
<text x="0" y="0" font-size="6.4" text-anchor="middle" font-weight="normal" fill="#222" transform="translate(421.73 294.8) scale(0.94 1)" stroke="#222" stroke-width="0.2">9</text>
<line x1="430.7" y1="283.8" x2="430.7" y2="286.3" stroke="#333" stroke-width="1"/>
<text x="0" y="0" font-size="6.4" text-anchor="middle" font-weight="normal" fill="#222" transform="translate(430.7 294.8) scale(0.94 1)" stroke="#222" stroke-width="0.2">10</text>
<line x1="440" y1="283.8" x2="440" y2="286.3" stroke="#333" stroke-width="1"/>
<text x="0" y="0" font-size="6.4" text-anchor="middle" font-weight="normal" fill="#222" transform="translate(440 294.8) scale(0.94 1)" stroke="#222" stroke-width="0.2">16</text>
<text x="0" y="0" font-size="7.8" text-anchor="middle" font-weight="bold" fill="#222" transform="translate(393.6 306.4) scale(0.68 1)">Day</text>
<text x="0" y="0" font-size="8" text-anchor="middle" font-weight="bold" fill="#222" transform="translate(320.2 247.6) rotate(-90) scale(0.67 1)" stroke="#222" stroke-width="0.15">% of CD8</text>
<line x1="349.97" y1="279.57" x2="349.97" y2="282.39" stroke="#b01a42" stroke-width="0.8"/>
<line x1="348.67" y1="279.57" x2="351.27" y2="279.57" stroke="#b01a42" stroke-width="0.8"/>
<line x1="348.67" y1="282.39" x2="351.27" y2="282.39" stroke="#b01a42" stroke-width="0.8"/>
<line x1="358.94" y1="264.78" x2="358.94" y2="276.05" stroke="#b01a42" stroke-width="0.8"/>
<line x1="357.64" y1="264.78" x2="360.24" y2="264.78" stroke="#b01a42" stroke-width="0.8"/>
<line x1="357.64" y1="276.05" x2="360.24" y2="276.05" stroke="#b01a42" stroke-width="0.8"/>
<line x1="367.91" y1="236.6" x2="367.91" y2="257.73" stroke="#b01a42" stroke-width="0.8"/>
<line x1="366.61" y1="236.6" x2="369.21" y2="236.6" stroke="#b01a42" stroke-width="0.8"/>
<line x1="366.61" y1="257.73" x2="369.21" y2="257.73" stroke="#b01a42" stroke-width="0.8"/>
<line x1="376.88" y1="230.96" x2="376.88" y2="246.46" stroke="#b01a42" stroke-width="0.8"/>
<line x1="375.58" y1="230.96" x2="378.18" y2="230.96" stroke="#b01a42" stroke-width="0.8"/>
<line x1="375.58" y1="246.46" x2="378.18" y2="246.46" stroke="#b01a42" stroke-width="0.8"/>
<line x1="385.85" y1="228.85" x2="385.85" y2="237.3" stroke="#b01a42" stroke-width="0.8"/>
<line x1="384.55" y1="228.85" x2="387.15" y2="228.85" stroke="#b01a42" stroke-width="0.8"/>
<line x1="384.55" y1="237.3" x2="387.15" y2="237.3" stroke="#b01a42" stroke-width="0.8"/>
<line x1="394.82" y1="231.67" x2="394.82" y2="237.3" stroke="#b01a42" stroke-width="0.8"/>
<line x1="393.52" y1="231.67" x2="396.12" y2="231.67" stroke="#b01a42" stroke-width="0.8"/>
<line x1="393.52" y1="237.3" x2="396.12" y2="237.3" stroke="#b01a42" stroke-width="0.8"/>
<line x1="403.79" y1="238.01" x2="403.79" y2="249.28" stroke="#b01a42" stroke-width="0.8"/>
<line x1="402.49" y1="238.01" x2="405.09" y2="238.01" stroke="#b01a42" stroke-width="0.8"/>
<line x1="402.49" y1="249.28" x2="405.09" y2="249.28" stroke="#b01a42" stroke-width="0.8"/>
<line x1="412.76" y1="266.19" x2="412.76" y2="271.82" stroke="#b01a42" stroke-width="0.8"/>
<line x1="411.46" y1="266.19" x2="414.06" y2="266.19" stroke="#b01a42" stroke-width="0.8"/>
<line x1="411.46" y1="271.82" x2="414.06" y2="271.82" stroke="#b01a42" stroke-width="0.8"/>
<line x1="421.73" y1="271.82" x2="421.73" y2="276.05" stroke="#b01a42" stroke-width="0.8"/>
<line x1="420.43" y1="271.82" x2="423.03" y2="271.82" stroke="#b01a42" stroke-width="0.8"/>
<line x1="420.43" y1="276.05" x2="423.03" y2="276.05" stroke="#b01a42" stroke-width="0.8"/>
<line x1="430.7" y1="276.75" x2="430.7" y2="280.98" stroke="#b01a42" stroke-width="0.8"/>
<line x1="429.4" y1="276.75" x2="432" y2="276.75" stroke="#b01a42" stroke-width="0.8"/>
<line x1="429.4" y1="280.98" x2="432" y2="280.98" stroke="#b01a42" stroke-width="0.8"/>
<line x1="440" y1="280.98" x2="440" y2="283.8" stroke="#b01a42" stroke-width="0.8"/>
<line x1="438.7" y1="280.98" x2="441.3" y2="280.98" stroke="#b01a42" stroke-width="0.8"/>
<line x1="438.7" y1="283.8" x2="441.3" y2="283.8" stroke="#b01a42" stroke-width="0.8"/>
<line x1="349.97" y1="270.41" x2="349.97" y2="278.87" stroke="#b8284e" stroke-width="0.8"/>
<line x1="348.67" y1="270.41" x2="351.27" y2="270.41" stroke="#b8284e" stroke-width="0.8"/>
<line x1="348.67" y1="278.87" x2="351.27" y2="278.87" stroke="#b8284e" stroke-width="0.8"/>
<line x1="358.94" y1="239.42" x2="358.94" y2="263.37" stroke="#b8284e" stroke-width="0.8"/>
<line x1="357.64" y1="239.42" x2="360.24" y2="239.42" stroke="#b8284e" stroke-width="0.8"/>
<line x1="357.64" y1="263.37" x2="360.24" y2="263.37" stroke="#b8284e" stroke-width="0.8"/>
<line x1="367.91" y1="225.33" x2="367.91" y2="246.46" stroke="#b8284e" stroke-width="0.8"/>
<line x1="366.61" y1="225.33" x2="369.21" y2="225.33" stroke="#b8284e" stroke-width="0.8"/>
<line x1="366.61" y1="246.46" x2="369.21" y2="246.46" stroke="#b8284e" stroke-width="0.8"/>
<line x1="376.88" y1="225.33" x2="376.88" y2="238.01" stroke="#b8284e" stroke-width="0.8"/>
<line x1="375.58" y1="225.33" x2="378.18" y2="225.33" stroke="#b8284e" stroke-width="0.8"/>
<line x1="375.58" y1="238.01" x2="378.18" y2="238.01" stroke="#b8284e" stroke-width="0.8"/>
<line x1="385.85" y1="226.03" x2="385.85" y2="231.67" stroke="#b8284e" stroke-width="0.8"/>
<line x1="384.55" y1="226.03" x2="387.15" y2="226.03" stroke="#b8284e" stroke-width="0.8"/>
<line x1="384.55" y1="231.67" x2="387.15" y2="231.67" stroke="#b8284e" stroke-width="0.8"/>
<line x1="394.82" y1="235.89" x2="394.82" y2="241.53" stroke="#b8284e" stroke-width="0.8"/>
<line x1="393.52" y1="235.89" x2="396.12" y2="235.89" stroke="#b8284e" stroke-width="0.8"/>
<line x1="393.52" y1="241.53" x2="396.12" y2="241.53" stroke="#b8284e" stroke-width="0.8"/>
<line x1="403.79" y1="241.53" x2="403.79" y2="255.62" stroke="#b8284e" stroke-width="0.8"/>
<line x1="402.49" y1="241.53" x2="405.09" y2="241.53" stroke="#b8284e" stroke-width="0.8"/>
<line x1="402.49" y1="255.62" x2="405.09" y2="255.62" stroke="#b8284e" stroke-width="0.8"/>
<line x1="412.76" y1="269.01" x2="412.76" y2="274.64" stroke="#b8284e" stroke-width="0.8"/>
<line x1="411.46" y1="269.01" x2="414.06" y2="269.01" stroke="#b8284e" stroke-width="0.8"/>
<line x1="411.46" y1="274.64" x2="414.06" y2="274.64" stroke="#b8284e" stroke-width="0.8"/>
<line x1="421.73" y1="275.35" x2="421.73" y2="279.57" stroke="#b8284e" stroke-width="0.8"/>
<line x1="420.43" y1="275.35" x2="423.03" y2="275.35" stroke="#b8284e" stroke-width="0.8"/>
<line x1="420.43" y1="279.57" x2="423.03" y2="279.57" stroke="#b8284e" stroke-width="0.8"/>
<line x1="430.7" y1="279.57" x2="430.7" y2="283.8" stroke="#b8284e" stroke-width="0.8"/>
<line x1="429.4" y1="279.57" x2="432" y2="279.57" stroke="#b8284e" stroke-width="0.8"/>
<line x1="429.4" y1="283.8" x2="432" y2="283.8" stroke="#b8284e" stroke-width="0.8"/>
<line x1="440" y1="280.28" x2="440" y2="283.1" stroke="#b8284e" stroke-width="0.8"/>
<line x1="438.7" y1="280.28" x2="441.3" y2="280.28" stroke="#b8284e" stroke-width="0.8"/>
<line x1="438.7" y1="283.1" x2="441.3" y2="283.1" stroke="#b8284e" stroke-width="0.8"/>
<path d="M349.97 280.98 L358.94 270.41 L367.91 247.17 L376.88 238.71 L385.85 233.08 L394.82 234.49 L403.79 243.64 L412.76 269.01 L421.73 273.94 L430.7 278.87" stroke="#b3123d" stroke-width="1.25" fill="none" stroke-linejoin="round"/>
<path d="M349.97 274.64 L358.94 251.39 L367.91 235.89 L376.88 231.67 L385.85 228.85 L394.82 238.71 L403.79 248.58 L412.76 271.82 L421.73 277.46 L430.7 281.69" stroke="#b3123d" stroke-width="1.1" fill="none" stroke-dasharray="2.2 1.6"/>
<line x1="435.2" y1="280.57" x2="440" y2="282.39" stroke="#b3123d" stroke-width="1.25"/>
<line x1="435.2" y1="281.69" x2="440" y2="281.69" stroke="#b3123d" stroke-width="1.1" stroke-dasharray="2 1.3"/>
<circle cx="349.97" cy="280.98" r="1.5" fill="#b3123d" stroke="none" stroke-width="0"/>
<circle cx="358.94" cy="270.41" r="1.5" fill="#b3123d" stroke="none" stroke-width="0"/>
<circle cx="367.91" cy="247.17" r="1.5" fill="#b3123d" stroke="none" stroke-width="0"/>
<circle cx="376.88" cy="238.71" r="1.5" fill="#b3123d" stroke="none" stroke-width="0"/>
<circle cx="385.85" cy="233.08" r="1.5" fill="#b3123d" stroke="none" stroke-width="0"/>
<circle cx="394.82" cy="234.49" r="1.5" fill="#b3123d" stroke="none" stroke-width="0"/>
<circle cx="403.79" cy="243.64" r="1.5" fill="#b3123d" stroke="none" stroke-width="0"/>
<circle cx="412.76" cy="269.01" r="1.5" fill="#b3123d" stroke="none" stroke-width="0"/>
<circle cx="421.73" cy="273.94" r="1.5" fill="#b3123d" stroke="none" stroke-width="0"/>
<circle cx="430.7" cy="278.87" r="1.5" fill="#b3123d" stroke="none" stroke-width="0"/>
<circle cx="440" cy="282.39" r="1.5" fill="#b3123d" stroke="none" stroke-width="0"/>
<circle cx="349.97" cy="274.64" r="1.45" fill="#fff" stroke="#b3123d" stroke-width="0.9"/>
<circle cx="358.94" cy="251.39" r="1.45" fill="#fff" stroke="#b3123d" stroke-width="0.9"/>
<circle cx="367.91" cy="235.89" r="1.45" fill="#fff" stroke="#b3123d" stroke-width="0.9"/>
<circle cx="376.88" cy="231.67" r="1.45" fill="#fff" stroke="#b3123d" stroke-width="0.9"/>
<circle cx="385.85" cy="228.85" r="1.45" fill="#fff" stroke="#b3123d" stroke-width="0.9"/>
<circle cx="394.82" cy="238.71" r="1.45" fill="#fff" stroke="#b3123d" stroke-width="0.9"/>
<circle cx="403.79" cy="248.58" r="1.45" fill="#fff" stroke="#b3123d" stroke-width="0.9"/>
<circle cx="412.76" cy="271.82" r="1.45" fill="#fff" stroke="#b3123d" stroke-width="0.9"/>
<circle cx="421.73" cy="277.46" r="1.45" fill="#fff" stroke="#b3123d" stroke-width="0.9"/>
<circle cx="430.7" cy="281.69" r="1.45" fill="#fff" stroke="#b3123d" stroke-width="0.9"/>
<circle cx="440" cy="281.69" r="1.45" fill="#fff" stroke="#b3123d" stroke-width="0.9"/>
<text x="367.6" y="218" font-size="5.5" text-anchor="middle" font-weight="normal" fill="#333" stroke="#333" stroke-width="0.2">*</text>
<text x="430.7" y="270" font-size="5.5" text-anchor="middle" font-weight="normal" fill="#333" stroke="#333" stroke-width="0.2">*</text>
<line x1="363.1" y1="325.4" x2="372.3" y2="325.4" stroke="#b3123d" stroke-width="1.2"/>
<circle cx="367.7" cy="325.4" r="1.35" fill="#b3123d" stroke="none" stroke-width="0"/>
<text x="375.2" y="327.5" font-size="6" text-anchor="start" font-weight="normal" fill="#222" stroke="#222" stroke-width="0.2">CLL Stim.</text>
<line x1="363.1" y1="335.3" x2="372.3" y2="335.3" stroke="#b3123d" stroke-width="1.1" stroke-dasharray="2 1.5"/>
<circle cx="367.7" cy="335.3" r="1.3" fill="#fff" stroke="#b3123d" stroke-width="0.8"/>
<text x="375.2" y="337.4" font-size="6" text-anchor="start" font-weight="normal" fill="#222" stroke="#222" stroke-width="0.2">CLL Stim. + Block</text>
<text x="0" y="0" font-size="8.7" text-anchor="middle" font-weight="normal" fill="#222" transform="translate(255 359.4) scale(0.92 1)" stroke="#222" stroke-width="0.18">PD-1</text>
<line x1="202.2" y1="374" x2="202.2" y2="447" stroke="#333" stroke-width="1.2"/>
<line x1="199.5" y1="446.5" x2="202.2" y2="446.5" stroke="#333" stroke-width="1.1"/>
<text x="0" y="0" font-size="6.4" text-anchor="end" font-weight="normal" fill="#222" transform="translate(196.2 448.65) scale(0.94 1)" stroke="#222" stroke-width="0.2">0</text>
<line x1="199.5" y1="432.5" x2="202.2" y2="432.5" stroke="#333" stroke-width="1.1"/>
<text x="0" y="0" font-size="6.4" text-anchor="end" font-weight="normal" fill="#222" transform="translate(196.2 434.55) scale(0.94 1)" stroke="#222" stroke-width="0.2">20</text>
<line x1="199.5" y1="418.5" x2="202.2" y2="418.5" stroke="#333" stroke-width="1.1"/>
<text x="0" y="0" font-size="6.4" text-anchor="end" font-weight="normal" fill="#222" transform="translate(196.2 420.45) scale(0.94 1)" stroke="#222" stroke-width="0.2">40</text>
<line x1="199.5" y1="404.5" x2="202.2" y2="404.5" stroke="#333" stroke-width="1.1"/>
<text x="0" y="0" font-size="6.4" text-anchor="end" font-weight="normal" fill="#222" transform="translate(196.2 406.35) scale(0.94 1)" stroke="#222" stroke-width="0.2">60</text>
<line x1="199.5" y1="390.5" x2="202.2" y2="390.5" stroke="#333" stroke-width="1.1"/>
<text x="0" y="0" font-size="6.4" text-anchor="end" font-weight="normal" fill="#222" transform="translate(196.2 392.25) scale(0.94 1)" stroke="#222" stroke-width="0.2">80</text>
<line x1="199.5" y1="376.5" x2="202.2" y2="376.5" stroke="#333" stroke-width="1.1"/>
<text x="0" y="0" font-size="6.4" text-anchor="end" font-weight="normal" fill="#222" transform="translate(196.2 378.15) scale(0.94 1)" stroke="#222" stroke-width="0.2">100</text>
<line x1="202.2" y1="446.5" x2="292.7" y2="446.5" stroke="#333" stroke-width="1.1"/>
<line x1="297.5" y1="446.5" x2="307.9" y2="446.5" stroke="#333" stroke-width="1.1"/>
<line x1="202.1" y1="446.5" x2="202.1" y2="449" stroke="#333" stroke-width="1"/>
<text x="0" y="0" font-size="6.4" text-anchor="middle" font-weight="normal" fill="#222" transform="translate(202.1 457.5) scale(0.94 1)" stroke="#222" stroke-width="0.2">0</text>
<line x1="211.12" y1="446.5" x2="211.12" y2="449" stroke="#333" stroke-width="1"/>
<text x="0" y="0" font-size="6.4" text-anchor="middle" font-weight="normal" fill="#222" transform="translate(211.12 457.5) scale(0.94 1)" stroke="#222" stroke-width="0.2">1</text>
<line x1="220.14" y1="446.5" x2="220.14" y2="449" stroke="#333" stroke-width="1"/>
<text x="0" y="0" font-size="6.4" text-anchor="middle" font-weight="normal" fill="#222" transform="translate(220.14 457.5) scale(0.94 1)" stroke="#222" stroke-width="0.2">2</text>
<line x1="229.16" y1="446.5" x2="229.16" y2="449" stroke="#333" stroke-width="1"/>
<text x="0" y="0" font-size="6.4" text-anchor="middle" font-weight="normal" fill="#222" transform="translate(229.16 457.5) scale(0.94 1)" stroke="#222" stroke-width="0.2">3</text>
<line x1="238.18" y1="446.5" x2="238.18" y2="449" stroke="#333" stroke-width="1"/>
<text x="0" y="0" font-size="6.4" text-anchor="middle" font-weight="normal" fill="#222" transform="translate(238.18 457.5) scale(0.94 1)" stroke="#222" stroke-width="0.2">4</text>
<line x1="247.2" y1="446.5" x2="247.2" y2="449" stroke="#333" stroke-width="1"/>
<text x="0" y="0" font-size="6.4" text-anchor="middle" font-weight="normal" fill="#222" transform="translate(247.2 457.5) scale(0.94 1)" stroke="#222" stroke-width="0.2">5</text>
<line x1="256.22" y1="446.5" x2="256.22" y2="449" stroke="#333" stroke-width="1"/>
<text x="0" y="0" font-size="6.4" text-anchor="middle" font-weight="normal" fill="#222" transform="translate(256.22 457.5) scale(0.94 1)" stroke="#222" stroke-width="0.2">6</text>
<line x1="265.24" y1="446.5" x2="265.24" y2="449" stroke="#333" stroke-width="1"/>
<text x="0" y="0" font-size="6.4" text-anchor="middle" font-weight="normal" fill="#222" transform="translate(265.24 457.5) scale(0.94 1)" stroke="#222" stroke-width="0.2">7</text>
<line x1="274.26" y1="446.5" x2="274.26" y2="449" stroke="#333" stroke-width="1"/>
<text x="0" y="0" font-size="6.4" text-anchor="middle" font-weight="normal" fill="#222" transform="translate(274.26 457.5) scale(0.94 1)" stroke="#222" stroke-width="0.2">8</text>
<line x1="283.28" y1="446.5" x2="283.28" y2="449" stroke="#333" stroke-width="1"/>
<text x="0" y="0" font-size="6.4" text-anchor="middle" font-weight="normal" fill="#222" transform="translate(283.28 457.5) scale(0.94 1)" stroke="#222" stroke-width="0.2">9</text>
<line x1="292.3" y1="446.5" x2="292.3" y2="449" stroke="#333" stroke-width="1"/>
<text x="0" y="0" font-size="6.4" text-anchor="middle" font-weight="normal" fill="#222" transform="translate(292.3 457.5) scale(0.94 1)" stroke="#222" stroke-width="0.2">10</text>
<line x1="302.3" y1="446.5" x2="302.3" y2="449" stroke="#333" stroke-width="1"/>
<text x="0" y="0" font-size="6.4" text-anchor="middle" font-weight="normal" fill="#222" transform="translate(302.3 457.5) scale(0.94 1)" stroke="#222" stroke-width="0.2">16</text>
<text x="0" y="0" font-size="7.8" text-anchor="middle" font-weight="bold" fill="#222" transform="translate(255.3 469.1) scale(0.68 1)">Day</text>
<text x="0" y="0" font-size="8" text-anchor="middle" font-weight="bold" fill="#222" transform="translate(182.2 410.2) rotate(-90) scale(0.67 1)" stroke="#222" stroke-width="0.15">% of CD4</text>
<line x1="211.12" y1="441.56" x2="211.12" y2="445.8" stroke="#b01a42" stroke-width="0.8"/>
<line x1="209.82" y1="441.56" x2="212.42" y2="441.56" stroke="#b01a42" stroke-width="0.8"/>
<line x1="209.82" y1="445.8" x2="212.42" y2="445.8" stroke="#b01a42" stroke-width="0.8"/>
<line x1="220.14" y1="427.46" x2="220.14" y2="438.75" stroke="#b01a42" stroke-width="0.8"/>
<line x1="218.84" y1="427.46" x2="221.44" y2="427.46" stroke="#b01a42" stroke-width="0.8"/>
<line x1="218.84" y1="438.75" x2="221.44" y2="438.75" stroke="#b01a42" stroke-width="0.8"/>
<line x1="229.16" y1="402.79" x2="229.16" y2="421.12" stroke="#b01a42" stroke-width="0.8"/>
<line x1="227.86" y1="402.79" x2="230.46" y2="402.79" stroke="#b01a42" stroke-width="0.8"/>
<line x1="227.86" y1="421.12" x2="230.46" y2="421.12" stroke="#b01a42" stroke-width="0.8"/>
<line x1="238.18" y1="400.68" x2="238.18" y2="411.95" stroke="#b01a42" stroke-width="0.8"/>
<line x1="236.88" y1="400.68" x2="239.48" y2="400.68" stroke="#b01a42" stroke-width="0.8"/>
<line x1="236.88" y1="411.95" x2="239.48" y2="411.95" stroke="#b01a42" stroke-width="0.8"/>
<line x1="247.2" y1="402.08" x2="247.2" y2="407.73" stroke="#b01a42" stroke-width="0.8"/>
<line x1="245.9" y1="402.08" x2="248.5" y2="402.08" stroke="#b01a42" stroke-width="0.8"/>
<line x1="245.9" y1="407.73" x2="248.5" y2="407.73" stroke="#b01a42" stroke-width="0.8"/>
<line x1="256.22" y1="401.38" x2="256.22" y2="407.02" stroke="#b01a42" stroke-width="0.8"/>
<line x1="254.92" y1="401.38" x2="257.52" y2="401.38" stroke="#b01a42" stroke-width="0.8"/>
<line x1="254.92" y1="407.02" x2="257.52" y2="407.02" stroke="#b01a42" stroke-width="0.8"/>
<line x1="265.24" y1="397.5" x2="265.24" y2="404.55" stroke="#b01a42" stroke-width="0.8"/>
<line x1="263.94" y1="397.5" x2="266.54" y2="397.5" stroke="#b01a42" stroke-width="0.8"/>
<line x1="263.94" y1="404.55" x2="266.54" y2="404.55" stroke="#b01a42" stroke-width="0.8"/>
<line x1="274.26" y1="409.49" x2="274.26" y2="419.36" stroke="#b01a42" stroke-width="0.8"/>
<line x1="272.96" y1="409.49" x2="275.56" y2="409.49" stroke="#b01a42" stroke-width="0.8"/>
<line x1="272.96" y1="419.36" x2="275.56" y2="419.36" stroke="#b01a42" stroke-width="0.8"/>
<line x1="283.28" y1="403.5" x2="283.28" y2="414.77" stroke="#b01a42" stroke-width="0.8"/>
<line x1="281.98" y1="403.5" x2="284.58" y2="403.5" stroke="#b01a42" stroke-width="0.8"/>
<line x1="281.98" y1="414.77" x2="284.58" y2="414.77" stroke="#b01a42" stroke-width="0.8"/>
<line x1="292.3" y1="404.2" x2="292.3" y2="418.3" stroke="#b01a42" stroke-width="0.8"/>
<line x1="291" y1="404.2" x2="293.6" y2="404.2" stroke="#b01a42" stroke-width="0.8"/>
<line x1="291" y1="418.3" x2="293.6" y2="418.3" stroke="#b01a42" stroke-width="0.8"/>
<line x1="302.3" y1="421.12" x2="302.3" y2="429.58" stroke="#b01a42" stroke-width="0.8"/>
<line x1="301" y1="421.12" x2="303.6" y2="421.12" stroke="#b01a42" stroke-width="0.8"/>
<line x1="301" y1="429.58" x2="303.6" y2="429.58" stroke="#b01a42" stroke-width="0.8"/>
<line x1="211.12" y1="438.75" x2="211.12" y2="442.98" stroke="#b8284e" stroke-width="0.8"/>
<line x1="209.82" y1="438.75" x2="212.42" y2="438.75" stroke="#b8284e" stroke-width="0.8"/>
<line x1="209.82" y1="442.98" x2="212.42" y2="442.98" stroke="#b8284e" stroke-width="0.8"/>
<line x1="220.14" y1="402.79" x2="220.14" y2="426.76" stroke="#b8284e" stroke-width="0.8"/>
<line x1="218.84" y1="402.79" x2="221.44" y2="402.79" stroke="#b8284e" stroke-width="0.8"/>
<line x1="218.84" y1="426.76" x2="221.44" y2="426.76" stroke="#b8284e" stroke-width="0.8"/>
<line x1="229.16" y1="390.1" x2="229.16" y2="404.2" stroke="#b8284e" stroke-width="0.8"/>
<line x1="227.86" y1="390.1" x2="230.46" y2="390.1" stroke="#b8284e" stroke-width="0.8"/>
<line x1="227.86" y1="404.2" x2="230.46" y2="404.2" stroke="#b8284e" stroke-width="0.8"/>
<line x1="238.18" y1="391.51" x2="238.18" y2="399.97" stroke="#b8284e" stroke-width="0.8"/>
<line x1="236.88" y1="391.51" x2="239.48" y2="391.51" stroke="#b8284e" stroke-width="0.8"/>
<line x1="236.88" y1="399.97" x2="239.48" y2="399.97" stroke="#b8284e" stroke-width="0.8"/>
<line x1="247.2" y1="399.97" x2="247.2" y2="405.61" stroke="#b8284e" stroke-width="0.8"/>
<line x1="245.9" y1="399.97" x2="248.5" y2="399.97" stroke="#b8284e" stroke-width="0.8"/>
<line x1="245.9" y1="405.61" x2="248.5" y2="405.61" stroke="#b8284e" stroke-width="0.8"/>
<line x1="256.22" y1="402.79" x2="256.22" y2="408.43" stroke="#b8284e" stroke-width="0.8"/>
<line x1="254.92" y1="402.79" x2="257.52" y2="402.79" stroke="#b8284e" stroke-width="0.8"/>
<line x1="254.92" y1="408.43" x2="257.52" y2="408.43" stroke="#b8284e" stroke-width="0.8"/>
<line x1="265.24" y1="403.5" x2="265.24" y2="409.13" stroke="#b8284e" stroke-width="0.8"/>
<line x1="263.94" y1="403.5" x2="266.54" y2="403.5" stroke="#b8284e" stroke-width="0.8"/>
<line x1="263.94" y1="409.13" x2="266.54" y2="409.13" stroke="#b8284e" stroke-width="0.8"/>
<line x1="274.26" y1="415.48" x2="274.26" y2="429.58" stroke="#b8284e" stroke-width="0.8"/>
<line x1="272.96" y1="415.48" x2="275.56" y2="415.48" stroke="#b8284e" stroke-width="0.8"/>
<line x1="272.96" y1="429.58" x2="275.56" y2="429.58" stroke="#b8284e" stroke-width="0.8"/>
<line x1="283.28" y1="409.84" x2="283.28" y2="423.94" stroke="#b8284e" stroke-width="0.8"/>
<line x1="281.98" y1="409.84" x2="284.58" y2="409.84" stroke="#b8284e" stroke-width="0.8"/>
<line x1="281.98" y1="423.94" x2="284.58" y2="423.94" stroke="#b8284e" stroke-width="0.8"/>
<line x1="292.3" y1="414.77" x2="292.3" y2="426.06" stroke="#b8284e" stroke-width="0.8"/>
<line x1="291" y1="414.77" x2="293.6" y2="414.77" stroke="#b8284e" stroke-width="0.8"/>
<line x1="291" y1="426.06" x2="293.6" y2="426.06" stroke="#b8284e" stroke-width="0.8"/>
<line x1="302.3" y1="423.94" x2="302.3" y2="435.22" stroke="#b8284e" stroke-width="0.8"/>
<line x1="301" y1="423.94" x2="303.6" y2="423.94" stroke="#b8284e" stroke-width="0.8"/>
<line x1="301" y1="435.22" x2="303.6" y2="435.22" stroke="#b8284e" stroke-width="0.8"/>
<path d="M211.12 443.68 L220.14 433.11 L229.16 411.95 L238.18 406.31 L247.2 404.9 L256.22 404.2 L265.24 401.03 L274.26 414.42 L283.28 409.13 L292.3 411.25" stroke="#b3123d" stroke-width="1.25" fill="none" stroke-linejoin="round"/>
<path d="M211.12 440.86 L220.14 414.77 L229.16 397.15 L238.18 395.74 L247.2 402.79 L256.22 405.61 L265.24 406.31 L274.26 422.53 L283.28 416.89 L292.3 420.42" stroke="#b3123d" stroke-width="1.1" fill="none" stroke-dasharray="2.2 1.6"/>
<line x1="297.5" y1="418.58" x2="302.3" y2="425.35" stroke="#b3123d" stroke-width="1.25"/>
<line x1="297.5" y1="425.18" x2="302.3" y2="429.58" stroke="#b3123d" stroke-width="1.1" stroke-dasharray="2 1.3"/>
<circle cx="211.12" cy="443.68" r="1.5" fill="#b3123d" stroke="none" stroke-width="0"/>
<circle cx="220.14" cy="433.11" r="1.5" fill="#b3123d" stroke="none" stroke-width="0"/>
<circle cx="229.16" cy="411.95" r="1.5" fill="#b3123d" stroke="none" stroke-width="0"/>
<circle cx="238.18" cy="406.31" r="1.5" fill="#b3123d" stroke="none" stroke-width="0"/>
<circle cx="247.2" cy="404.9" r="1.5" fill="#b3123d" stroke="none" stroke-width="0"/>
<circle cx="256.22" cy="404.2" r="1.5" fill="#b3123d" stroke="none" stroke-width="0"/>
<circle cx="265.24" cy="401.03" r="1.5" fill="#b3123d" stroke="none" stroke-width="0"/>
<circle cx="274.26" cy="414.42" r="1.5" fill="#b3123d" stroke="none" stroke-width="0"/>
<circle cx="283.28" cy="409.13" r="1.5" fill="#b3123d" stroke="none" stroke-width="0"/>
<circle cx="292.3" cy="411.25" r="1.5" fill="#b3123d" stroke="none" stroke-width="0"/>
<circle cx="302.3" cy="425.35" r="1.5" fill="#b3123d" stroke="none" stroke-width="0"/>
<circle cx="211.12" cy="440.86" r="1.45" fill="#fff" stroke="#b3123d" stroke-width="0.9"/>
<circle cx="220.14" cy="414.77" r="1.45" fill="#fff" stroke="#b3123d" stroke-width="0.9"/>
<circle cx="229.16" cy="397.15" r="1.45" fill="#fff" stroke="#b3123d" stroke-width="0.9"/>
<circle cx="238.18" cy="395.74" r="1.45" fill="#fff" stroke="#b3123d" stroke-width="0.9"/>
<circle cx="247.2" cy="402.79" r="1.45" fill="#fff" stroke="#b3123d" stroke-width="0.9"/>
<circle cx="256.22" cy="405.61" r="1.45" fill="#fff" stroke="#b3123d" stroke-width="0.9"/>
<circle cx="265.24" cy="406.31" r="1.45" fill="#fff" stroke="#b3123d" stroke-width="0.9"/>
<circle cx="274.26" cy="422.53" r="1.45" fill="#fff" stroke="#b3123d" stroke-width="0.9"/>
<circle cx="283.28" cy="416.89" r="1.45" fill="#fff" stroke="#b3123d" stroke-width="0.9"/>
<circle cx="292.3" cy="420.42" r="1.45" fill="#fff" stroke="#b3123d" stroke-width="0.9"/>
<circle cx="302.3" cy="429.58" r="1.45" fill="#fff" stroke="#b3123d" stroke-width="0.9"/>
<text x="229.4" y="381" font-size="5.5" text-anchor="middle" font-weight="normal" fill="#333" stroke="#333" stroke-width="0.2">*</text>
<text x="274.5" y="399" font-size="5.5" text-anchor="middle" font-weight="normal" fill="#333" stroke="#333" stroke-width="0.2">*</text>
<text x="302.5" y="410" font-size="5.5" text-anchor="middle" font-weight="normal" fill="#333" stroke="#333" stroke-width="0.2">*</text>
<text x="0" y="0" font-size="8.7" text-anchor="middle" font-weight="normal" fill="#222" transform="translate(393.4 359.3) scale(0.92 1)" stroke="#222" stroke-width="0.18">PD-1</text>
<line x1="340.8" y1="374" x2="340.8" y2="446.9" stroke="#333" stroke-width="1.2"/>
<line x1="338.1" y1="446.5" x2="340.8" y2="446.5" stroke="#333" stroke-width="1.1"/>
<text x="0" y="0" font-size="6.4" text-anchor="end" font-weight="normal" fill="#222" transform="translate(334.8 448.55) scale(0.94 1)" stroke="#222" stroke-width="0.2">0</text>
<line x1="338.1" y1="428.5" x2="340.8" y2="428.5" stroke="#333" stroke-width="1.1"/>
<text x="0" y="0" font-size="6.4" text-anchor="end" font-weight="normal" fill="#222" transform="translate(334.8 431.05) scale(0.94 1)" stroke="#222" stroke-width="0.2">20</text>
<line x1="338.1" y1="411.5" x2="340.8" y2="411.5" stroke="#333" stroke-width="1.1"/>
<text x="0" y="0" font-size="6.4" text-anchor="end" font-weight="normal" fill="#222" transform="translate(334.8 413.55) scale(0.94 1)" stroke="#222" stroke-width="0.2">40</text>
<line x1="338.1" y1="393.5" x2="340.8" y2="393.5" stroke="#333" stroke-width="1.1"/>
<text x="0" y="0" font-size="6.4" text-anchor="end" font-weight="normal" fill="#222" transform="translate(334.8 396.05) scale(0.94 1)" stroke="#222" stroke-width="0.2">60</text>
<line x1="338.1" y1="376.5" x2="340.8" y2="376.5" stroke="#333" stroke-width="1.1"/>
<text x="0" y="0" font-size="6.4" text-anchor="end" font-weight="normal" fill="#222" transform="translate(334.8 378.55) scale(0.94 1)" stroke="#222" stroke-width="0.2">80</text>
<line x1="340.8" y1="446.4" x2="430.9" y2="446.4" stroke="#333" stroke-width="1.1"/>
<line x1="436.6" y1="446.4" x2="447" y2="446.4" stroke="#333" stroke-width="1.1"/>
<line x1="340.8" y1="446.4" x2="340.8" y2="448.9" stroke="#333" stroke-width="1"/>
<text x="0" y="0" font-size="6.4" text-anchor="middle" font-weight="normal" fill="#222" transform="translate(340.8 457.5) scale(0.94 1)" stroke="#222" stroke-width="0.2">0</text>
<line x1="349.77" y1="446.4" x2="349.77" y2="448.9" stroke="#333" stroke-width="1"/>
<text x="0" y="0" font-size="6.4" text-anchor="middle" font-weight="normal" fill="#222" transform="translate(349.77 457.5) scale(0.94 1)" stroke="#222" stroke-width="0.2">1</text>
<line x1="358.74" y1="446.4" x2="358.74" y2="448.9" stroke="#333" stroke-width="1"/>
<text x="0" y="0" font-size="6.4" text-anchor="middle" font-weight="normal" fill="#222" transform="translate(358.74 457.5) scale(0.94 1)" stroke="#222" stroke-width="0.2">2</text>
<line x1="367.71" y1="446.4" x2="367.71" y2="448.9" stroke="#333" stroke-width="1"/>
<text x="0" y="0" font-size="6.4" text-anchor="middle" font-weight="normal" fill="#222" transform="translate(367.71 457.5) scale(0.94 1)" stroke="#222" stroke-width="0.2">3</text>
<line x1="376.68" y1="446.4" x2="376.68" y2="448.9" stroke="#333" stroke-width="1"/>
<text x="0" y="0" font-size="6.4" text-anchor="middle" font-weight="normal" fill="#222" transform="translate(376.68 457.5) scale(0.94 1)" stroke="#222" stroke-width="0.2">4</text>
<line x1="385.65" y1="446.4" x2="385.65" y2="448.9" stroke="#333" stroke-width="1"/>
<text x="0" y="0" font-size="6.4" text-anchor="middle" font-weight="normal" fill="#222" transform="translate(385.65 457.5) scale(0.94 1)" stroke="#222" stroke-width="0.2">5</text>
<line x1="394.62" y1="446.4" x2="394.62" y2="448.9" stroke="#333" stroke-width="1"/>
<text x="0" y="0" font-size="6.4" text-anchor="middle" font-weight="normal" fill="#222" transform="translate(394.62 457.5) scale(0.94 1)" stroke="#222" stroke-width="0.2">6</text>
<line x1="403.59" y1="446.4" x2="403.59" y2="448.9" stroke="#333" stroke-width="1"/>
<text x="0" y="0" font-size="6.4" text-anchor="middle" font-weight="normal" fill="#222" transform="translate(403.59 457.5) scale(0.94 1)" stroke="#222" stroke-width="0.2">7</text>
<line x1="412.56" y1="446.4" x2="412.56" y2="448.9" stroke="#333" stroke-width="1"/>
<text x="0" y="0" font-size="6.4" text-anchor="middle" font-weight="normal" fill="#222" transform="translate(412.56 457.5) scale(0.94 1)" stroke="#222" stroke-width="0.2">8</text>
<line x1="421.53" y1="446.4" x2="421.53" y2="448.9" stroke="#333" stroke-width="1"/>
<text x="0" y="0" font-size="6.4" text-anchor="middle" font-weight="normal" fill="#222" transform="translate(421.53 457.5) scale(0.94 1)" stroke="#222" stroke-width="0.2">9</text>
<line x1="430.5" y1="446.4" x2="430.5" y2="448.9" stroke="#333" stroke-width="1"/>
<text x="0" y="0" font-size="6.4" text-anchor="middle" font-weight="normal" fill="#222" transform="translate(430.5 457.5) scale(0.94 1)" stroke="#222" stroke-width="0.2">10</text>
<line x1="441.4" y1="446.4" x2="441.4" y2="448.9" stroke="#333" stroke-width="1"/>
<text x="0" y="0" font-size="6.4" text-anchor="middle" font-weight="normal" fill="#222" transform="translate(441.4 457.5) scale(0.94 1)" stroke="#222" stroke-width="0.2">16</text>
<text x="0" y="0" font-size="7.8" text-anchor="middle" font-weight="bold" fill="#222" transform="translate(393.6 469.1) scale(0.68 1)">Day</text>
<text x="0" y="0" font-size="8" text-anchor="middle" font-weight="bold" fill="#222" transform="translate(320.2 410.2) rotate(-90) scale(0.67 1)" stroke="#222" stroke-width="0.15">% of CD8</text>
<line x1="349.77" y1="444.65" x2="349.77" y2="446.4" stroke="#b01a42" stroke-width="0.8"/>
<line x1="348.47" y1="444.65" x2="351.07" y2="444.65" stroke="#b01a42" stroke-width="0.8"/>
<line x1="348.47" y1="446.4" x2="351.07" y2="446.4" stroke="#b01a42" stroke-width="0.8"/>
<line x1="358.74" y1="432.4" x2="358.74" y2="441.15" stroke="#b01a42" stroke-width="0.8"/>
<line x1="357.44" y1="432.4" x2="360.04" y2="432.4" stroke="#b01a42" stroke-width="0.8"/>
<line x1="357.44" y1="441.15" x2="360.04" y2="441.15" stroke="#b01a42" stroke-width="0.8"/>
<line x1="367.71" y1="400.02" x2="367.71" y2="426.27" stroke="#b01a42" stroke-width="0.8"/>
<line x1="366.41" y1="400.02" x2="369.01" y2="400.02" stroke="#b01a42" stroke-width="0.8"/>
<line x1="366.41" y1="426.27" x2="369.01" y2="426.27" stroke="#b01a42" stroke-width="0.8"/>
<line x1="376.68" y1="393.9" x2="376.68" y2="411.4" stroke="#b01a42" stroke-width="0.8"/>
<line x1="375.38" y1="393.9" x2="377.98" y2="393.9" stroke="#b01a42" stroke-width="0.8"/>
<line x1="375.38" y1="411.4" x2="377.98" y2="411.4" stroke="#b01a42" stroke-width="0.8"/>
<line x1="385.65" y1="399.15" x2="385.65" y2="407.9" stroke="#b01a42" stroke-width="0.8"/>
<line x1="384.35" y1="399.15" x2="386.95" y2="399.15" stroke="#b01a42" stroke-width="0.8"/>
<line x1="384.35" y1="407.9" x2="386.95" y2="407.9" stroke="#b01a42" stroke-width="0.8"/>
<line x1="394.62" y1="402.65" x2="394.62" y2="409.65" stroke="#b01a42" stroke-width="0.8"/>
<line x1="393.32" y1="402.65" x2="395.92" y2="402.65" stroke="#b01a42" stroke-width="0.8"/>
<line x1="393.32" y1="409.65" x2="395.92" y2="409.65" stroke="#b01a42" stroke-width="0.8"/>
<line x1="403.59" y1="403.52" x2="403.59" y2="414.02" stroke="#b01a42" stroke-width="0.8"/>
<line x1="402.29" y1="403.52" x2="404.89" y2="403.52" stroke="#b01a42" stroke-width="0.8"/>
<line x1="402.29" y1="414.02" x2="404.89" y2="414.02" stroke="#b01a42" stroke-width="0.8"/>
<line x1="412.56" y1="421.02" x2="412.56" y2="429.77" stroke="#b01a42" stroke-width="0.8"/>
<line x1="411.26" y1="421.02" x2="413.86" y2="421.02" stroke="#b01a42" stroke-width="0.8"/>
<line x1="411.26" y1="429.77" x2="413.86" y2="429.77" stroke="#b01a42" stroke-width="0.8"/>
<line x1="421.53" y1="415.77" x2="421.53" y2="424.52" stroke="#b01a42" stroke-width="0.8"/>
<line x1="420.23" y1="415.77" x2="422.83" y2="415.77" stroke="#b01a42" stroke-width="0.8"/>
<line x1="420.23" y1="424.52" x2="422.83" y2="424.52" stroke="#b01a42" stroke-width="0.8"/>
<line x1="430.5" y1="419.27" x2="430.5" y2="428.02" stroke="#b01a42" stroke-width="0.8"/>
<line x1="429.2" y1="419.27" x2="431.8" y2="419.27" stroke="#b01a42" stroke-width="0.8"/>
<line x1="429.2" y1="428.02" x2="431.8" y2="428.02" stroke="#b01a42" stroke-width="0.8"/>
<line x1="441.4" y1="428.02" x2="441.4" y2="435.02" stroke="#b01a42" stroke-width="0.8"/>
<line x1="440.1" y1="428.02" x2="442.7" y2="428.02" stroke="#b01a42" stroke-width="0.8"/>
<line x1="440.1" y1="435.02" x2="442.7" y2="435.02" stroke="#b01a42" stroke-width="0.8"/>
<line x1="349.77" y1="441.15" x2="349.77" y2="444.65" stroke="#b8284e" stroke-width="0.8"/>
<line x1="348.47" y1="441.15" x2="351.07" y2="441.15" stroke="#b8284e" stroke-width="0.8"/>
<line x1="348.47" y1="444.65" x2="351.07" y2="444.65" stroke="#b8284e" stroke-width="0.8"/>
<line x1="358.74" y1="413.15" x2="358.74" y2="430.65" stroke="#b8284e" stroke-width="0.8"/>
<line x1="357.44" y1="413.15" x2="360.04" y2="413.15" stroke="#b8284e" stroke-width="0.8"/>
<line x1="357.44" y1="430.65" x2="360.04" y2="430.65" stroke="#b8284e" stroke-width="0.8"/>
<line x1="367.71" y1="384.27" x2="367.71" y2="410.52" stroke="#b8284e" stroke-width="0.8"/>
<line x1="366.41" y1="384.27" x2="369.01" y2="384.27" stroke="#b8284e" stroke-width="0.8"/>
<line x1="366.41" y1="410.52" x2="369.01" y2="410.52" stroke="#b8284e" stroke-width="0.8"/>
<line x1="376.68" y1="385.15" x2="376.68" y2="399.15" stroke="#b8284e" stroke-width="0.8"/>
<line x1="375.38" y1="385.15" x2="377.98" y2="385.15" stroke="#b8284e" stroke-width="0.8"/>
<line x1="375.38" y1="399.15" x2="377.98" y2="399.15" stroke="#b8284e" stroke-width="0.8"/>
<line x1="385.65" y1="397.4" x2="385.65" y2="411.4" stroke="#b8284e" stroke-width="0.8"/>
<line x1="384.35" y1="397.4" x2="386.95" y2="397.4" stroke="#b8284e" stroke-width="0.8"/>
<line x1="384.35" y1="411.4" x2="386.95" y2="411.4" stroke="#b8284e" stroke-width="0.8"/>
<line x1="394.62" y1="402.65" x2="394.62" y2="411.4" stroke="#b8284e" stroke-width="0.8"/>
<line x1="393.32" y1="402.65" x2="395.92" y2="402.65" stroke="#b8284e" stroke-width="0.8"/>
<line x1="393.32" y1="411.4" x2="395.92" y2="411.4" stroke="#b8284e" stroke-width="0.8"/>
<line x1="403.59" y1="410.52" x2="403.59" y2="421.02" stroke="#b8284e" stroke-width="0.8"/>
<line x1="402.29" y1="410.52" x2="404.89" y2="410.52" stroke="#b8284e" stroke-width="0.8"/>
<line x1="402.29" y1="421.02" x2="404.89" y2="421.02" stroke="#b8284e" stroke-width="0.8"/>
<line x1="412.56" y1="426.27" x2="412.56" y2="435.02" stroke="#b8284e" stroke-width="0.8"/>
<line x1="411.26" y1="426.27" x2="413.86" y2="426.27" stroke="#b8284e" stroke-width="0.8"/>
<line x1="411.26" y1="435.02" x2="413.86" y2="435.02" stroke="#b8284e" stroke-width="0.8"/>
<line x1="421.53" y1="420.15" x2="421.53" y2="428.9" stroke="#b8284e" stroke-width="0.8"/>
<line x1="420.23" y1="420.15" x2="422.83" y2="420.15" stroke="#b8284e" stroke-width="0.8"/>
<line x1="420.23" y1="428.9" x2="422.83" y2="428.9" stroke="#b8284e" stroke-width="0.8"/>
<line x1="430.5" y1="421.9" x2="430.5" y2="432.4" stroke="#b8284e" stroke-width="0.8"/>
<line x1="429.2" y1="421.9" x2="431.8" y2="421.9" stroke="#b8284e" stroke-width="0.8"/>
<line x1="429.2" y1="432.4" x2="431.8" y2="432.4" stroke="#b8284e" stroke-width="0.8"/>
<line x1="441.4" y1="429.77" x2="441.4" y2="436.77" stroke="#b8284e" stroke-width="0.8"/>
<line x1="440.1" y1="429.77" x2="442.7" y2="429.77" stroke="#b8284e" stroke-width="0.8"/>
<line x1="440.1" y1="436.77" x2="442.7" y2="436.77" stroke="#b8284e" stroke-width="0.8"/>
<path d="M349.77 445.52 L358.74 436.77 L367.71 413.15 L376.68 402.65 L385.65 403.52 L394.62 406.15 L403.59 408.77 L412.56 425.4 L421.53 420.15 L430.5 423.65" stroke="#b3123d" stroke-width="1.25" fill="none" stroke-linejoin="round"/>
<path d="M349.77 442.9 L358.74 421.9 L367.71 397.4 L376.68 392.15 L385.65 404.4 L394.62 407.02 L403.59 415.77 L412.56 430.65 L421.53 424.52 L430.5 427.15" stroke="#b3123d" stroke-width="1.1" fill="none" stroke-dasharray="2.2 1.6"/>
<line x1="436.6" y1="428.06" x2="441.4" y2="431.52" stroke="#b3123d" stroke-width="1.25"/>
<line x1="436.6" y1="430.58" x2="441.4" y2="433.27" stroke="#b3123d" stroke-width="1.1" stroke-dasharray="2 1.3"/>
<circle cx="349.77" cy="445.52" r="1.5" fill="#b3123d" stroke="none" stroke-width="0"/>
<circle cx="358.74" cy="436.77" r="1.5" fill="#b3123d" stroke="none" stroke-width="0"/>
<circle cx="367.71" cy="413.15" r="1.5" fill="#b3123d" stroke="none" stroke-width="0"/>
<circle cx="376.68" cy="402.65" r="1.5" fill="#b3123d" stroke="none" stroke-width="0"/>
<circle cx="385.65" cy="403.52" r="1.5" fill="#b3123d" stroke="none" stroke-width="0"/>
<circle cx="394.62" cy="406.15" r="1.5" fill="#b3123d" stroke="none" stroke-width="0"/>
<circle cx="403.59" cy="408.77" r="1.5" fill="#b3123d" stroke="none" stroke-width="0"/>
<circle cx="412.56" cy="425.4" r="1.5" fill="#b3123d" stroke="none" stroke-width="0"/>
<circle cx="421.53" cy="420.15" r="1.5" fill="#b3123d" stroke="none" stroke-width="0"/>
<circle cx="430.5" cy="423.65" r="1.5" fill="#b3123d" stroke="none" stroke-width="0"/>
<circle cx="441.4" cy="431.52" r="1.5" fill="#b3123d" stroke="none" stroke-width="0"/>
<circle cx="349.77" cy="442.9" r="1.45" fill="#fff" stroke="#b3123d" stroke-width="0.9"/>
<circle cx="358.74" cy="421.9" r="1.45" fill="#fff" stroke="#b3123d" stroke-width="0.9"/>
<circle cx="367.71" cy="397.4" r="1.45" fill="#fff" stroke="#b3123d" stroke-width="0.9"/>
<circle cx="376.68" cy="392.15" r="1.45" fill="#fff" stroke="#b3123d" stroke-width="0.9"/>
<circle cx="385.65" cy="404.4" r="1.45" fill="#fff" stroke="#b3123d" stroke-width="0.9"/>
<circle cx="394.62" cy="407.02" r="1.45" fill="#fff" stroke="#b3123d" stroke-width="0.9"/>
<circle cx="403.59" cy="415.77" r="1.45" fill="#fff" stroke="#b3123d" stroke-width="0.9"/>
<circle cx="412.56" cy="430.65" r="1.45" fill="#fff" stroke="#b3123d" stroke-width="0.9"/>
<circle cx="421.53" cy="424.52" r="1.45" fill="#fff" stroke="#b3123d" stroke-width="0.9"/>
<circle cx="430.5" cy="427.15" r="1.45" fill="#fff" stroke="#b3123d" stroke-width="0.9"/>
<circle cx="441.4" cy="433.27" r="1.45" fill="#fff" stroke="#b3123d" stroke-width="0.9"/>
<text x="367.7" y="375.5" font-size="5.5" text-anchor="middle" font-weight="normal" fill="#333" stroke="#333" stroke-width="0.2">**</text>
<text x="452.6" y="184.9" font-size="10.4" text-anchor="start" font-weight="bold" fill="#111">H</text>
<text x="0" y="0" font-size="8.7" text-anchor="middle" font-weight="normal" fill="#222" transform="translate(491.6 181.9) scale(0.92 1)" stroke="#222" stroke-width="0.18">Cytolytic</text>
<text x="0" y="0" font-size="8.7" text-anchor="middle" font-weight="normal" fill="#222" transform="translate(491.6 191.5) scale(0.92 1)" stroke="#222" stroke-width="0.18">activity</text>
<text x="0" y="0" font-size="8.7" text-anchor="middle" font-weight="normal" fill="#222" transform="translate(491.2 201.2) scale(0.92 1)" stroke="#222" stroke-width="0.18">Jeko-1</text>
<line x1="477.4" y1="221" x2="477.4" y2="284" stroke="#333" stroke-width="1.2"/>
<line x1="474.7" y1="283.5" x2="477.4" y2="283.5" stroke="#333" stroke-width="1.1"/>
<text x="0" y="0" font-size="6.4" text-anchor="end" font-weight="normal" fill="#222" transform="translate(471.4 285.65) scale(0.94 1)" stroke="#222" stroke-width="0.2">0</text>
<line x1="474.7" y1="263.5" x2="477.4" y2="263.5" stroke="#333" stroke-width="1.1"/>
<text x="0" y="0" font-size="6.4" text-anchor="end" font-weight="normal" fill="#222" transform="translate(471.4 265.95) scale(0.94 1)" stroke="#222" stroke-width="0.2">20</text>
<line x1="474.7" y1="244.5" x2="477.4" y2="244.5" stroke="#333" stroke-width="1.1"/>
<text x="0" y="0" font-size="6.4" text-anchor="end" font-weight="normal" fill="#222" transform="translate(471.4 246.25) scale(0.94 1)" stroke="#222" stroke-width="0.2">40</text>
<line x1="474.7" y1="224.5" x2="477.4" y2="224.5" stroke="#333" stroke-width="1.1"/>
<text x="0" y="0" font-size="6.4" text-anchor="end" font-weight="normal" fill="#222" transform="translate(471.4 226.55) scale(0.94 1)" stroke="#222" stroke-width="0.2">60</text>
<text x="0" y="0" font-size="7.2" text-anchor="middle" font-weight="normal" fill="#222" transform="translate(460.4 254) rotate(-90) scale(0.79 1)" stroke="#222" stroke-width="0.25">Specific lysis (%)</text>
<line x1="477.4" y1="283.5" x2="508.6" y2="283.5" stroke="#333" stroke-width="1.1"/>
<line x1="482.5" y1="283.5" x2="482.5" y2="286" stroke="#333" stroke-width="1"/>
<line x1="499.6" y1="283.5" x2="499.6" y2="286" stroke="#333" stroke-width="1"/>
<line x1="482.5" y1="241.64" x2="499.6" y2="228.04" stroke="#d0405e" stroke-width="0.9"/>
<circle cx="482.5" cy="241.64" r="0.9" fill="#b3123d" stroke="none" stroke-width="0"/>
<circle cx="499.6" cy="228.04" r="0.9" fill="#b3123d" stroke="none" stroke-width="0"/>
<line x1="482.5" y1="244.79" x2="499.6" y2="235.53" stroke="#d0405e" stroke-width="0.9"/>
<circle cx="482.5" cy="244.79" r="0.9" fill="#b3123d" stroke="none" stroke-width="0"/>
<circle cx="499.6" cy="235.53" r="0.9" fill="#b3123d" stroke="none" stroke-width="0"/>
<line x1="482.5" y1="254.94" x2="499.6" y2="243.31" stroke="#d0405e" stroke-width="0.9"/>
<circle cx="482.5" cy="254.94" r="0.9" fill="#b3123d" stroke="none" stroke-width="0"/>
<circle cx="499.6" cy="243.31" r="0.9" fill="#b3123d" stroke="none" stroke-width="0"/>
<line x1="482.5" y1="269.22" x2="499.6" y2="255.72" stroke="#d0405e" stroke-width="0.9"/>
<circle cx="482.5" cy="269.22" r="0.9" fill="#b3123d" stroke="none" stroke-width="0"/>
<circle cx="499.6" cy="255.72" r="0.9" fill="#b3123d" stroke="none" stroke-width="0"/>
<path d="M482.5 223.5 V220.5 H499.6 V223.5" stroke="#444" stroke-width="0.9" fill="none"/>
<text x="491.05" y="220.6" font-size="5.8" text-anchor="middle" font-weight="normal" fill="#222" stroke="#222" stroke-width="0.2">***</text>
<text x="0" y="0" font-size="6.2" text-anchor="end" font-weight="normal" fill="#222" transform="translate(485.7 292.8) rotate(-45) scale(0.93 1)" stroke="#222" stroke-width="0.2">CAR + Jeko-1</text>
<text x="0" y="0" font-size="6.2" text-anchor="end" font-weight="normal" fill="#222" transform="translate(503 292.8) rotate(-45) scale(0.93 1)" stroke="#222" stroke-width="0.2">CAR + Jeko-1 +</text>
<text x="0" y="0" font-size="6.2" text-anchor="end" font-weight="normal" fill="#222" transform="translate(507.6 297.4) rotate(-45) scale(0.93 1)" stroke="#222" stroke-width="0.2">block</text>
<text x="0" y="0" font-size="8.7" text-anchor="middle" font-weight="normal" fill="#222" transform="translate(490.6 349.5) scale(0.92 1)" stroke="#222" stroke-width="0.18">Cytolytic</text>
<text x="0" y="0" font-size="8.7" text-anchor="middle" font-weight="normal" fill="#222" transform="translate(493.4 359.3) scale(0.92 1)" stroke="#222" stroke-width="0.18">activity CLL</text>
<line x1="477.4" y1="378.9" x2="477.4" y2="446.9" stroke="#333" stroke-width="1.2"/>
<line x1="474.7" y1="446.5" x2="477.4" y2="446.5" stroke="#333" stroke-width="1.1"/>
<text x="0" y="0" font-size="6.4" text-anchor="end" font-weight="normal" fill="#222" transform="translate(471.4 448.7) scale(0.94 1)" stroke="#222" stroke-width="0.2">-5</text>
<line x1="474.7" y1="433.5" x2="477.4" y2="433.5" stroke="#333" stroke-width="1.1"/>
<text x="0" y="0" font-size="6.4" text-anchor="end" font-weight="normal" fill="#222" transform="translate(471.4 435.75) scale(0.94 1)" stroke="#222" stroke-width="0.2">0</text>
<line x1="474.7" y1="420.5" x2="477.4" y2="420.5" stroke="#333" stroke-width="1.1"/>
<text x="0" y="0" font-size="6.4" text-anchor="end" font-weight="normal" fill="#222" transform="translate(471.4 422.8) scale(0.94 1)" stroke="#222" stroke-width="0.2">5</text>
<line x1="474.7" y1="407.5" x2="477.4" y2="407.5" stroke="#333" stroke-width="1.1"/>
<text x="0" y="0" font-size="6.4" text-anchor="end" font-weight="normal" fill="#222" transform="translate(471.4 409.85) scale(0.94 1)" stroke="#222" stroke-width="0.2">10</text>
<line x1="474.7" y1="394.5" x2="477.4" y2="394.5" stroke="#333" stroke-width="1.1"/>
<text x="0" y="0" font-size="6.4" text-anchor="end" font-weight="normal" fill="#222" transform="translate(471.4 396.9) scale(0.94 1)" stroke="#222" stroke-width="0.2">15</text>
<line x1="474.7" y1="381.5" x2="477.4" y2="381.5" stroke="#333" stroke-width="1.1"/>
<text x="0" y="0" font-size="6.4" text-anchor="end" font-weight="normal" fill="#222" transform="translate(471.4 383.95) scale(0.94 1)" stroke="#222" stroke-width="0.2">20</text>
<text x="0" y="0" font-size="7.2" text-anchor="middle" font-weight="normal" fill="#222" transform="translate(460.4 414.4) rotate(-90) scale(0.79 1)" stroke="#222" stroke-width="0.25">Specific lysis (%)</text>
<line x1="477.4" y1="446.4" x2="508.7" y2="446.4" stroke="#333" stroke-width="1.1"/>
<line x1="483.3" y1="446.4" x2="483.3" y2="448.9" stroke="#333" stroke-width="1"/>
<line x1="502" y1="446.4" x2="502" y2="448.9" stroke="#333" stroke-width="1"/>
<line x1="483.3" y1="410.81" x2="502" y2="386.2" stroke="#d0405e" stroke-width="0.9"/>
<circle cx="483.3" cy="410.81" r="0.9" fill="#b3123d" stroke="none" stroke-width="0"/>
<circle cx="502" cy="386.2" r="0.9" fill="#b3123d" stroke="none" stroke-width="0"/>
<line x1="483.3" y1="412.36" x2="502" y2="402.26" stroke="#d0405e" stroke-width="0.9"/>
<circle cx="483.3" cy="412.36" r="0.9" fill="#b3123d" stroke="none" stroke-width="0"/>
<circle cx="502" cy="402.26" r="0.9" fill="#b3123d" stroke="none" stroke-width="0"/>
<line x1="483.3" y1="414.69" x2="502" y2="410.81" stroke="#d0405e" stroke-width="0.9"/>
<circle cx="483.3" cy="414.69" r="0.9" fill="#b3123d" stroke="none" stroke-width="0"/>
<circle cx="502" cy="410.81" r="0.9" fill="#b3123d" stroke="none" stroke-width="0"/>
<line x1="483.3" y1="427.64" x2="502" y2="415.73" stroke="#d0405e" stroke-width="0.9"/>
<circle cx="483.3" cy="427.64" r="0.9" fill="#b3123d" stroke="none" stroke-width="0"/>
<circle cx="502" cy="415.73" r="0.9" fill="#b3123d" stroke="none" stroke-width="0"/>
<line x1="483.3" y1="429.2" x2="502" y2="424.02" stroke="#d0405e" stroke-width="0.9"/>
<circle cx="483.3" cy="429.2" r="0.9" fill="#b3123d" stroke="none" stroke-width="0"/>
<circle cx="502" cy="424.02" r="0.9" fill="#b3123d" stroke="none" stroke-width="0"/>
<line x1="483.3" y1="431.53" x2="502" y2="431.01" stroke="#d0405e" stroke-width="0.9"/>
<circle cx="483.3" cy="431.53" r="0.9" fill="#b3123d" stroke="none" stroke-width="0"/>
<circle cx="502" cy="431.01" r="0.9" fill="#b3123d" stroke="none" stroke-width="0"/>
<line x1="483.3" y1="443.7" x2="502" y2="431.01" stroke="#d0405e" stroke-width="0.9"/>
<circle cx="483.3" cy="443.7" r="0.9" fill="#b3123d" stroke="none" stroke-width="0"/>
<circle cx="502" cy="431.01" r="0.9" fill="#b3123d" stroke="none" stroke-width="0"/>
<path d="M483.3 381.3 V378.3 H502 V381.3" stroke="#444" stroke-width="0.9" fill="none"/>
<text x="492.65" y="378.4" font-size="5.8" text-anchor="middle" font-weight="normal" fill="#222" stroke="#222" stroke-width="0.2">*</text>
<text x="0" y="0" font-size="6.2" text-anchor="end" font-weight="normal" fill="#222" transform="translate(486.9 455.6) rotate(-45) scale(0.93 1)" stroke="#222" stroke-width="0.2">CAR + CLL</text>
<text x="0" y="0" font-size="6.2" text-anchor="end" font-weight="normal" fill="#222" transform="translate(505.6 455.6) rotate(-45) scale(0.93 1)" stroke="#222" stroke-width="0.2">CAR + CLL +</text>
<text x="0" y="0" font-size="6.2" text-anchor="end" font-weight="normal" fill="#222" transform="translate(510.2 460.2) rotate(-45) scale(0.93 1)" stroke="#222" stroke-width="0.2">block</text>
<rect x="0" y="0" width="520" height="1" fill="#666"/>
<rect x="0" y="502" width="520" height="1" fill="#666"/>
<rect x="0" y="0" width="1" height="503" fill="#666"/>
<rect x="519" y="0" width="1" height="503" fill="#666"/>
</svg>
</body></html>
